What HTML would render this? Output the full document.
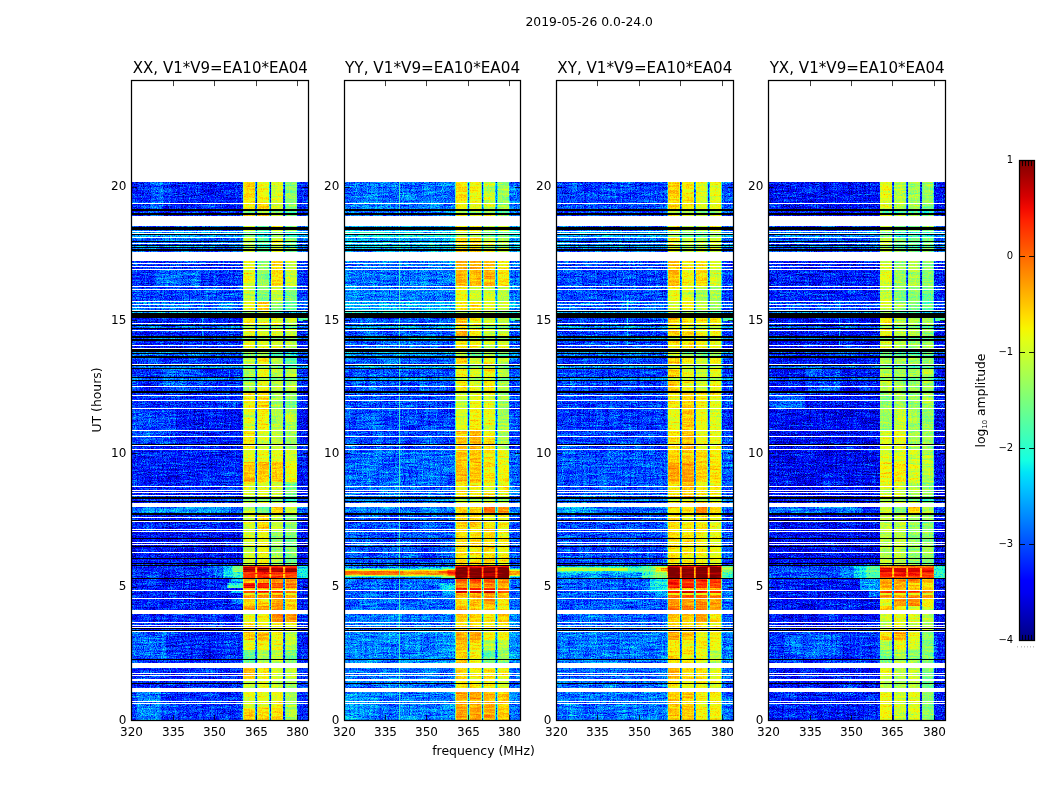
<!DOCTYPE html>
<html lang="en"><head><meta charset="utf-8"><title>2019-05-26 0.0-24.0</title>
<style>html,body{margin:0;padding:0;background:#fff}body{width:1050px;height:800px;overflow:hidden}svg{display:block}text{font-family:"DejaVu Sans","Liberation Sans",sans-serif;fill:#000}</style></head><body>
<svg width="1050" height="800" viewBox="0 0 1050 800">
<defs>
<filter id="jet0" filterUnits="userSpaceOnUse" x="121.25" y="170" width="196.9" height="560" color-interpolation-filters="sRGB">
<feGaussianBlur in="SourceGraphic" stdDeviation="0.5 0.6" result="S"/>
<feTurbulence type="fractalNoise" baseFrequency="0.85 0.9" numOctaves="2" seed="3" result="T"/>
<feTurbulence type="fractalNoise" baseFrequency="0.05 0.55" numOctaves="2" seed="11" result="T2"/>
<feTurbulence type="fractalNoise" baseFrequency="0.45 0.03" numOctaves="1" seed="2" result="T3"/>
<feColorMatrix in="T" type="matrix" values="1 0 0 0 0  1 0 0 0 0  1 0 0 0 0  0 0 0 0 1" result="N1"/>
<feColorMatrix in="T2" type="matrix" values="1 0 0 0 0  1 0 0 0 0  1 0 0 0 0  0 0 0 0 1" result="N2"/>
<feColorMatrix in="T3" type="matrix" values="1 0 0 0 0  1 0 0 0 0  1 0 0 0 0  0 0 0 0 1" result="N3"/>
<feComposite in="N1" in2="N2" operator="arithmetic" k1="0" k2="0.8" k3="0.2" k4="0" result="N12"/>
<feComposite in="N12" in2="N3" operator="arithmetic" k1="0" k2="1" k3="0.3" k4="-0.15" result="Nz0"/>
<feComponentTransfer in="Nz0" result="Nz"><feFuncR type="gamma" amplitude="1" exponent="0.55" offset="0"/><feFuncG type="gamma" amplitude="1" exponent="0.55" offset="0"/><feFuncB type="gamma" amplitude="1" exponent="0.55" offset="0"/></feComponentTransfer>
<feComposite in="S" in2="Nz" operator="arithmetic" k1="-0.85" k2="1.5737" k3="0.85" k4="-0.5737" result="Wv0"/>
<feComposite in="Wv0" in2="N2" operator="arithmetic" k1="0" k2="1" k3="0.16" k4="-0.08" result="Wv"/>
<feComponentTransfer in="Wv"><feFuncR type="table" tableValues="0.000 0.000 0.000 0.000 0.000 0.000 0.000 0.000 0.000 0.000 0.000 0.000 0.000 0.000 0.000 0.000 0.000 0.000 0.000 0.000 0.000 0.000 0.000 0.000 0.000 0.000 0.000 0.000 0.000 0.000 0.000 0.000 0.000 0.000 0.000 0.000 0.032 0.065 0.097 0.129 0.161 0.194 0.226 0.258 0.290 0.323 0.355 0.387 0.419 0.452 0.484 0.516 0.548 0.581 0.613 0.645 0.677 0.710 0.742 0.774 0.806 0.839 0.871 0.903 0.935 0.968 1.000 1.000 1.000 1.000 1.000 1.000 1.000 1.000 1.000 1.000 1.000 1.000 1.000 1.000 1.000 1.000 1.000 1.000 1.000 1.000 1.000 1.000 1.000 1.000 0.955 0.909 0.864 0.818 0.773 0.727 0.682 0.636 0.591 0.545 0.500"/><feFuncG type="table" tableValues="0.000 0.000 0.000 0.000 0.000 0.000 0.000 0.000 0.000 0.000 0.000 0.000 0.000 0.020 0.060 0.100 0.140 0.180 0.220 0.260 0.300 0.340 0.380 0.420 0.460 0.500 0.540 0.580 0.620 0.660 0.700 0.740 0.780 0.820 0.860 0.900 0.940 0.980 1.000 1.000 1.000 1.000 1.000 1.000 1.000 1.000 1.000 1.000 1.000 1.000 1.000 1.000 1.000 1.000 1.000 1.000 1.000 1.000 1.000 1.000 1.000 1.000 1.000 1.000 1.000 0.963 0.926 0.889 0.852 0.815 0.778 0.741 0.704 0.667 0.630 0.593 0.556 0.519 0.481 0.444 0.407 0.370 0.333 0.296 0.259 0.222 0.185 0.148 0.111 0.074 0.037 0.000 0.000 0.000 0.000 0.000 0.000 0.000 0.000 0.000 0.000"/><feFuncB type="table" tableValues="0.500 0.545 0.591 0.636 0.682 0.727 0.773 0.818 0.864 0.909 0.955 1.000 1.000 1.000 1.000 1.000 1.000 1.000 1.000 1.000 1.000 1.000 1.000 1.000 1.000 1.000 1.000 1.000 1.000 1.000 1.000 1.000 1.000 1.000 1.000 0.968 0.935 0.903 0.871 0.839 0.806 0.774 0.742 0.710 0.677 0.645 0.613 0.581 0.548 0.516 0.484 0.452 0.419 0.387 0.355 0.323 0.290 0.258 0.226 0.194 0.161 0.129 0.097 0.065 0.032 0.000 0.000 0.000 0.000 0.000 0.000 0.000 0.000 0.000 0.000 0.000 0.000 0.000 0.000 0.000 0.000 0.000 0.000 0.000 0.000 0.000 0.000 0.000 0.000 0.000 0.000 0.000 0.000 0.000 0.000 0.000 0.000 0.000 0.000 0.000 0.000"/></feComponentTransfer>
</filter>
<clipPath id="cp0"><rect x="131.5" y="182.0" width="177" height="538.5"/></clipPath>
<filter id="jet1" filterUnits="userSpaceOnUse" x="333.53" y="170" width="196.9" height="560" color-interpolation-filters="sRGB">
<feGaussianBlur in="SourceGraphic" stdDeviation="0.5 0.6" result="S"/>
<feTurbulence type="fractalNoise" baseFrequency="0.85 0.9" numOctaves="2" seed="10" result="T"/>
<feTurbulence type="fractalNoise" baseFrequency="0.05 0.55" numOctaves="2" seed="16" result="T2"/>
<feTurbulence type="fractalNoise" baseFrequency="0.45 0.03" numOctaves="1" seed="5" result="T3"/>
<feColorMatrix in="T" type="matrix" values="1 0 0 0 0  1 0 0 0 0  1 0 0 0 0  0 0 0 0 1" result="N1"/>
<feColorMatrix in="T2" type="matrix" values="1 0 0 0 0  1 0 0 0 0  1 0 0 0 0  0 0 0 0 1" result="N2"/>
<feColorMatrix in="T3" type="matrix" values="1 0 0 0 0  1 0 0 0 0  1 0 0 0 0  0 0 0 0 1" result="N3"/>
<feComposite in="N1" in2="N2" operator="arithmetic" k1="0" k2="0.8" k3="0.2" k4="0" result="N12"/>
<feComposite in="N12" in2="N3" operator="arithmetic" k1="0" k2="1" k3="0.3" k4="-0.15" result="Nz0"/>
<feComponentTransfer in="Nz0" result="Nz"><feFuncR type="gamma" amplitude="1" exponent="0.55" offset="0"/><feFuncG type="gamma" amplitude="1" exponent="0.55" offset="0"/><feFuncB type="gamma" amplitude="1" exponent="0.55" offset="0"/></feComponentTransfer>
<feComposite in="S" in2="Nz" operator="arithmetic" k1="-0.85" k2="1.5737" k3="0.85" k4="-0.5737" result="Wv0"/>
<feComposite in="Wv0" in2="N2" operator="arithmetic" k1="0" k2="1" k3="0.16" k4="-0.08" result="Wv"/>
<feComponentTransfer in="Wv"><feFuncR type="table" tableValues="0.000 0.000 0.000 0.000 0.000 0.000 0.000 0.000 0.000 0.000 0.000 0.000 0.000 0.000 0.000 0.000 0.000 0.000 0.000 0.000 0.000 0.000 0.000 0.000 0.000 0.000 0.000 0.000 0.000 0.000 0.000 0.000 0.000 0.000 0.000 0.000 0.032 0.065 0.097 0.129 0.161 0.194 0.226 0.258 0.290 0.323 0.355 0.387 0.419 0.452 0.484 0.516 0.548 0.581 0.613 0.645 0.677 0.710 0.742 0.774 0.806 0.839 0.871 0.903 0.935 0.968 1.000 1.000 1.000 1.000 1.000 1.000 1.000 1.000 1.000 1.000 1.000 1.000 1.000 1.000 1.000 1.000 1.000 1.000 1.000 1.000 1.000 1.000 1.000 1.000 0.955 0.909 0.864 0.818 0.773 0.727 0.682 0.636 0.591 0.545 0.500"/><feFuncG type="table" tableValues="0.000 0.000 0.000 0.000 0.000 0.000 0.000 0.000 0.000 0.000 0.000 0.000 0.000 0.020 0.060 0.100 0.140 0.180 0.220 0.260 0.300 0.340 0.380 0.420 0.460 0.500 0.540 0.580 0.620 0.660 0.700 0.740 0.780 0.820 0.860 0.900 0.940 0.980 1.000 1.000 1.000 1.000 1.000 1.000 1.000 1.000 1.000 1.000 1.000 1.000 1.000 1.000 1.000 1.000 1.000 1.000 1.000 1.000 1.000 1.000 1.000 1.000 1.000 1.000 1.000 0.963 0.926 0.889 0.852 0.815 0.778 0.741 0.704 0.667 0.630 0.593 0.556 0.519 0.481 0.444 0.407 0.370 0.333 0.296 0.259 0.222 0.185 0.148 0.111 0.074 0.037 0.000 0.000 0.000 0.000 0.000 0.000 0.000 0.000 0.000 0.000"/><feFuncB type="table" tableValues="0.500 0.545 0.591 0.636 0.682 0.727 0.773 0.818 0.864 0.909 0.955 1.000 1.000 1.000 1.000 1.000 1.000 1.000 1.000 1.000 1.000 1.000 1.000 1.000 1.000 1.000 1.000 1.000 1.000 1.000 1.000 1.000 1.000 1.000 1.000 0.968 0.935 0.903 0.871 0.839 0.806 0.774 0.742 0.710 0.677 0.645 0.613 0.581 0.548 0.516 0.484 0.452 0.419 0.387 0.355 0.323 0.290 0.258 0.226 0.194 0.161 0.129 0.097 0.065 0.032 0.000 0.000 0.000 0.000 0.000 0.000 0.000 0.000 0.000 0.000 0.000 0.000 0.000 0.000 0.000 0.000 0.000 0.000 0.000 0.000 0.000 0.000 0.000 0.000 0.000 0.000 0.000 0.000 0.000 0.000 0.000 0.000 0.000 0.000 0.000 0.000"/></feComponentTransfer>
</filter>
<clipPath id="cp1"><rect x="344.5" y="182.0" width="176" height="538.5"/></clipPath>
<filter id="jet2" filterUnits="userSpaceOnUse" x="545.8" y="170" width="196.9" height="560" color-interpolation-filters="sRGB">
<feGaussianBlur in="SourceGraphic" stdDeviation="0.5 0.6" result="S"/>
<feTurbulence type="fractalNoise" baseFrequency="0.85 0.9" numOctaves="2" seed="17" result="T"/>
<feTurbulence type="fractalNoise" baseFrequency="0.05 0.55" numOctaves="2" seed="21" result="T2"/>
<feTurbulence type="fractalNoise" baseFrequency="0.45 0.03" numOctaves="1" seed="8" result="T3"/>
<feColorMatrix in="T" type="matrix" values="1 0 0 0 0  1 0 0 0 0  1 0 0 0 0  0 0 0 0 1" result="N1"/>
<feColorMatrix in="T2" type="matrix" values="1 0 0 0 0  1 0 0 0 0  1 0 0 0 0  0 0 0 0 1" result="N2"/>
<feColorMatrix in="T3" type="matrix" values="1 0 0 0 0  1 0 0 0 0  1 0 0 0 0  0 0 0 0 1" result="N3"/>
<feComposite in="N1" in2="N2" operator="arithmetic" k1="0" k2="0.8" k3="0.2" k4="0" result="N12"/>
<feComposite in="N12" in2="N3" operator="arithmetic" k1="0" k2="1" k3="0.3" k4="-0.15" result="Nz0"/>
<feComponentTransfer in="Nz0" result="Nz"><feFuncR type="gamma" amplitude="1" exponent="0.55" offset="0"/><feFuncG type="gamma" amplitude="1" exponent="0.55" offset="0"/><feFuncB type="gamma" amplitude="1" exponent="0.55" offset="0"/></feComponentTransfer>
<feComposite in="S" in2="Nz" operator="arithmetic" k1="-0.85" k2="1.5737" k3="0.85" k4="-0.5737" result="Wv0"/>
<feComposite in="Wv0" in2="N2" operator="arithmetic" k1="0" k2="1" k3="0.16" k4="-0.08" result="Wv"/>
<feComponentTransfer in="Wv"><feFuncR type="table" tableValues="0.000 0.000 0.000 0.000 0.000 0.000 0.000 0.000 0.000 0.000 0.000 0.000 0.000 0.000 0.000 0.000 0.000 0.000 0.000 0.000 0.000 0.000 0.000 0.000 0.000 0.000 0.000 0.000 0.000 0.000 0.000 0.000 0.000 0.000 0.000 0.000 0.032 0.065 0.097 0.129 0.161 0.194 0.226 0.258 0.290 0.323 0.355 0.387 0.419 0.452 0.484 0.516 0.548 0.581 0.613 0.645 0.677 0.710 0.742 0.774 0.806 0.839 0.871 0.903 0.935 0.968 1.000 1.000 1.000 1.000 1.000 1.000 1.000 1.000 1.000 1.000 1.000 1.000 1.000 1.000 1.000 1.000 1.000 1.000 1.000 1.000 1.000 1.000 1.000 1.000 0.955 0.909 0.864 0.818 0.773 0.727 0.682 0.636 0.591 0.545 0.500"/><feFuncG type="table" tableValues="0.000 0.000 0.000 0.000 0.000 0.000 0.000 0.000 0.000 0.000 0.000 0.000 0.000 0.020 0.060 0.100 0.140 0.180 0.220 0.260 0.300 0.340 0.380 0.420 0.460 0.500 0.540 0.580 0.620 0.660 0.700 0.740 0.780 0.820 0.860 0.900 0.940 0.980 1.000 1.000 1.000 1.000 1.000 1.000 1.000 1.000 1.000 1.000 1.000 1.000 1.000 1.000 1.000 1.000 1.000 1.000 1.000 1.000 1.000 1.000 1.000 1.000 1.000 1.000 1.000 0.963 0.926 0.889 0.852 0.815 0.778 0.741 0.704 0.667 0.630 0.593 0.556 0.519 0.481 0.444 0.407 0.370 0.333 0.296 0.259 0.222 0.185 0.148 0.111 0.074 0.037 0.000 0.000 0.000 0.000 0.000 0.000 0.000 0.000 0.000 0.000"/><feFuncB type="table" tableValues="0.500 0.545 0.591 0.636 0.682 0.727 0.773 0.818 0.864 0.909 0.955 1.000 1.000 1.000 1.000 1.000 1.000 1.000 1.000 1.000 1.000 1.000 1.000 1.000 1.000 1.000 1.000 1.000 1.000 1.000 1.000 1.000 1.000 1.000 1.000 0.968 0.935 0.903 0.871 0.839 0.806 0.774 0.742 0.710 0.677 0.645 0.613 0.581 0.548 0.516 0.484 0.452 0.419 0.387 0.355 0.323 0.290 0.258 0.226 0.194 0.161 0.129 0.097 0.065 0.032 0.000 0.000 0.000 0.000 0.000 0.000 0.000 0.000 0.000 0.000 0.000 0.000 0.000 0.000 0.000 0.000 0.000 0.000 0.000 0.000 0.000 0.000 0.000 0.000 0.000 0.000 0.000 0.000 0.000 0.000 0.000 0.000 0.000 0.000 0.000 0.000"/></feComponentTransfer>
</filter>
<clipPath id="cp2"><rect x="556.5" y="182.0" width="177" height="538.5"/></clipPath>
<filter id="jet3" filterUnits="userSpaceOnUse" x="758.1" y="170" width="196.9" height="560" color-interpolation-filters="sRGB">
<feGaussianBlur in="SourceGraphic" stdDeviation="0.5 0.6" result="S"/>
<feTurbulence type="fractalNoise" baseFrequency="0.85 0.9" numOctaves="2" seed="24" result="T"/>
<feTurbulence type="fractalNoise" baseFrequency="0.05 0.55" numOctaves="2" seed="26" result="T2"/>
<feTurbulence type="fractalNoise" baseFrequency="0.45 0.03" numOctaves="1" seed="11" result="T3"/>
<feColorMatrix in="T" type="matrix" values="1 0 0 0 0  1 0 0 0 0  1 0 0 0 0  0 0 0 0 1" result="N1"/>
<feColorMatrix in="T2" type="matrix" values="1 0 0 0 0  1 0 0 0 0  1 0 0 0 0  0 0 0 0 1" result="N2"/>
<feColorMatrix in="T3" type="matrix" values="1 0 0 0 0  1 0 0 0 0  1 0 0 0 0  0 0 0 0 1" result="N3"/>
<feComposite in="N1" in2="N2" operator="arithmetic" k1="0" k2="0.8" k3="0.2" k4="0" result="N12"/>
<feComposite in="N12" in2="N3" operator="arithmetic" k1="0" k2="1" k3="0.3" k4="-0.15" result="Nz0"/>
<feComponentTransfer in="Nz0" result="Nz"><feFuncR type="gamma" amplitude="1" exponent="0.55" offset="0"/><feFuncG type="gamma" amplitude="1" exponent="0.55" offset="0"/><feFuncB type="gamma" amplitude="1" exponent="0.55" offset="0"/></feComponentTransfer>
<feComposite in="S" in2="Nz" operator="arithmetic" k1="-0.85" k2="1.5737" k3="0.85" k4="-0.5737" result="Wv0"/>
<feComposite in="Wv0" in2="N2" operator="arithmetic" k1="0" k2="1" k3="0.16" k4="-0.08" result="Wv"/>
<feComponentTransfer in="Wv"><feFuncR type="table" tableValues="0.000 0.000 0.000 0.000 0.000 0.000 0.000 0.000 0.000 0.000 0.000 0.000 0.000 0.000 0.000 0.000 0.000 0.000 0.000 0.000 0.000 0.000 0.000 0.000 0.000 0.000 0.000 0.000 0.000 0.000 0.000 0.000 0.000 0.000 0.000 0.000 0.032 0.065 0.097 0.129 0.161 0.194 0.226 0.258 0.290 0.323 0.355 0.387 0.419 0.452 0.484 0.516 0.548 0.581 0.613 0.645 0.677 0.710 0.742 0.774 0.806 0.839 0.871 0.903 0.935 0.968 1.000 1.000 1.000 1.000 1.000 1.000 1.000 1.000 1.000 1.000 1.000 1.000 1.000 1.000 1.000 1.000 1.000 1.000 1.000 1.000 1.000 1.000 1.000 1.000 0.955 0.909 0.864 0.818 0.773 0.727 0.682 0.636 0.591 0.545 0.500"/><feFuncG type="table" tableValues="0.000 0.000 0.000 0.000 0.000 0.000 0.000 0.000 0.000 0.000 0.000 0.000 0.000 0.020 0.060 0.100 0.140 0.180 0.220 0.260 0.300 0.340 0.380 0.420 0.460 0.500 0.540 0.580 0.620 0.660 0.700 0.740 0.780 0.820 0.860 0.900 0.940 0.980 1.000 1.000 1.000 1.000 1.000 1.000 1.000 1.000 1.000 1.000 1.000 1.000 1.000 1.000 1.000 1.000 1.000 1.000 1.000 1.000 1.000 1.000 1.000 1.000 1.000 1.000 1.000 0.963 0.926 0.889 0.852 0.815 0.778 0.741 0.704 0.667 0.630 0.593 0.556 0.519 0.481 0.444 0.407 0.370 0.333 0.296 0.259 0.222 0.185 0.148 0.111 0.074 0.037 0.000 0.000 0.000 0.000 0.000 0.000 0.000 0.000 0.000 0.000"/><feFuncB type="table" tableValues="0.500 0.545 0.591 0.636 0.682 0.727 0.773 0.818 0.864 0.909 0.955 1.000 1.000 1.000 1.000 1.000 1.000 1.000 1.000 1.000 1.000 1.000 1.000 1.000 1.000 1.000 1.000 1.000 1.000 1.000 1.000 1.000 1.000 1.000 1.000 0.968 0.935 0.903 0.871 0.839 0.806 0.774 0.742 0.710 0.677 0.645 0.613 0.581 0.548 0.516 0.484 0.452 0.419 0.387 0.355 0.323 0.290 0.258 0.226 0.194 0.161 0.129 0.097 0.065 0.032 0.000 0.000 0.000 0.000 0.000 0.000 0.000 0.000 0.000 0.000 0.000 0.000 0.000 0.000 0.000 0.000 0.000 0.000 0.000 0.000 0.000 0.000 0.000 0.000 0.000 0.000 0.000 0.000 0.000 0.000 0.000 0.000 0.000 0.000 0.000 0.000"/></feComponentTransfer>
</filter>
<clipPath id="cp3"><rect x="768.5" y="182.0" width="177" height="538.5"/></clipPath>
<g id="ov">
<path fill="#fff" d="M-1 203h178.9v1h-178.9zM-1 216h178.9v10h-178.9zM-1 231h178.9v1h-178.9zM-1 233h178.9v1h-178.9zM-1 237h178.9v1h-178.9zM-1 243h178.9v1h-178.9zM-1 252h178.9v9h-178.9zM-1 263h178.9v1h-178.9zM-1 266h178.9v1h-178.9zM-1 269h178.9v1h-178.9zM-1 286h178.9v1h-178.9zM-1 289h178.9v1h-178.9zM-1 301h178.9v1h-178.9zM-1 304h178.9v1h-178.9zM-1 307h178.9v1h-178.9zM-1 310h178.9v1h-178.9zM-1 323h178.9v1h-178.9zM-1 330h178.9v1h-178.9zM-1 345h178.9v1h-178.9zM-1 348h178.9v1h-178.9zM-1 364h178.9v1h-178.9zM-1 386h178.9v1h-178.9zM-1 395h178.9v1h-178.9zM-1 400h178.9v1h-178.9zM-1 408h178.9v1h-178.9zM-1 430h178.9v1h-178.9zM-1 436h178.9v1h-178.9zM-1 445h178.9v1h-178.9zM-1 449h178.9v1h-178.9zM-1 486h178.9v1h-178.9zM-1 490h178.9v1h-178.9zM-1 492h178.9v1h-178.9zM-1 495h178.9v1h-178.9zM-1 503h178.9v4h-178.9zM-1 517h178.9v1h-178.9zM-1 521h178.9v1h-178.9zM-1 529h178.9v1h-178.9zM-1 531h178.9v1h-178.9zM-1 542h178.9v1h-178.9zM-1 544h178.9v1h-178.9zM-1 552h178.9v1h-178.9zM-1 590h178.9v1h-178.9zM-1 598h178.9v1h-178.9zM-1 610h178.9v4h-178.9zM-1 622h178.9v1h-178.9zM-1 625h178.9v1h-178.9zM-1 627h178.9v1h-178.9zM-1 631h178.9v1h-178.9zM-1 663h178.9v5h-178.9zM-1 673h178.9v1h-178.9zM-1 675h178.9v1h-178.9zM-1 679h178.9v2h-178.9zM-1 688h178.9v4h-178.9zM-1 701h178.9v1h-178.9zM-1 703h178.9v1h-178.9z"/>
<path fill="#000" d="M-1 209h178.9v2h-178.9zM-1 213h178.9v2h-178.9zM-1 227h178.9v3h-178.9zM-1 234h178.9v1h-178.9zM-1 241h178.9v1h-178.9zM-1 245h178.9v1h-178.9zM-1 247h178.9v1h-178.9zM-1 249h178.9v2h-178.9zM-1 311h178.9v1h-178.9zM-1 313h178.9v5h-178.9zM-1 325h178.9v1h-178.9zM-1 328h178.9v1h-178.9zM-1 336h178.9v2h-178.9zM-1 339h178.9v2h-178.9zM-1 349h178.9v3h-178.9zM-1 353h178.9v1h-178.9zM-1 356h178.9v2h-178.9zM-1 365h178.9v1h-178.9zM-1 368h178.9v1h-178.9zM-1 377h178.9v1h-178.9zM-1 380h178.9v1h-178.9zM-1 391h178.9v2h-178.9zM-1 444h178.9v1h-178.9zM-1 497h178.9v2h-178.9zM-1 501h178.9v1h-178.9zM-1 513h178.9v2h-178.9zM-1 520h178.9v1h-178.9zM-1 538h178.9v1h-178.9zM-1 546h178.9v1h-178.9zM-1 558h178.9v1h-178.9zM-1 563h178.9v1h-178.9zM-1 565h178.9v1h-178.9zM-1 578h178.9v1h-178.9zM-1 628h178.9v1h-178.9zM-1 630h178.9v1h-178.9zM-1 659h178.9v1h-178.9zM-1 683h178.9v1h-178.9z"/>
</g>
<linearGradient id="cbg" x1="0" y1="0" x2="0" y2="1"><stop offset="0%" stop-color="rgb(128,0,0)"/><stop offset="2.5%" stop-color="rgb(156,0,0)"/><stop offset="5%" stop-color="rgb(185,0,0)"/><stop offset="7.5%" stop-color="rgb(214,0,0)"/><stop offset="10%" stop-color="rgb(243,9,0)"/><stop offset="12.5%" stop-color="rgb(255,33,0)"/><stop offset="15%" stop-color="rgb(255,57,0)"/><stop offset="17.5%" stop-color="rgb(255,80,0)"/><stop offset="20%" stop-color="rgb(255,104,0)"/><stop offset="22.5%" stop-color="rgb(255,128,0)"/><stop offset="25%" stop-color="rgb(255,151,0)"/><stop offset="27.5%" stop-color="rgb(255,175,0)"/><stop offset="30%" stop-color="rgb(255,198,0)"/><stop offset="32.5%" stop-color="rgb(255,222,0)"/><stop offset="35%" stop-color="rgb(247,246,0)"/><stop offset="37.5%" stop-color="rgb(226,255,21)"/><stop offset="40%" stop-color="rgb(206,255,41)"/><stop offset="42.5%" stop-color="rgb(185,255,62)"/><stop offset="45%" stop-color="rgb(165,255,82)"/><stop offset="47.5%" stop-color="rgb(144,255,103)"/><stop offset="50%" stop-color="rgb(123,255,123)"/><stop offset="52.5%" stop-color="rgb(103,255,144)"/><stop offset="55%" stop-color="rgb(82,255,165)"/><stop offset="57.5%" stop-color="rgb(62,255,185)"/><stop offset="60%" stop-color="rgb(41,255,206)"/><stop offset="62.5%" stop-color="rgb(21,255,226)"/><stop offset="65%" stop-color="rgb(0,229,247)"/><stop offset="67.5%" stop-color="rgb(0,204,255)"/><stop offset="70%" stop-color="rgb(0,179,255)"/><stop offset="72.5%" stop-color="rgb(0,153,255)"/><stop offset="75%" stop-color="rgb(0,128,255)"/><stop offset="77.5%" stop-color="rgb(0,102,255)"/><stop offset="80%" stop-color="rgb(0,76,255)"/><stop offset="82.5%" stop-color="rgb(0,51,255)"/><stop offset="85%" stop-color="rgb(0,26,255)"/><stop offset="87.5%" stop-color="rgb(0,0,255)"/><stop offset="90%" stop-color="rgb(0,0,243)"/><stop offset="92.5%" stop-color="rgb(0,0,214)"/><stop offset="95%" stop-color="rgb(0,0,185)"/><stop offset="97.5%" stop-color="rgb(0,0,156)"/><stop offset="100%" stop-color="rgb(0,0,128)"/></linearGradient>
</defs>
<g clip-path="url(#cp0)"><g filter="url(#jet0)">
<rect x="119.25" y="168" width="200.9" height="564" fill="#262626"/>
<rect x="119.25" y="168" width="200.9" height="36" fill="#262626"/>
<rect x="119.25" y="204" width="200.9" height="17" fill="#262626"/>
<rect x="119.25" y="221" width="200.9" height="35" fill="#383838"/>
<rect x="119.25" y="256" width="200.9" height="31" fill="#2b2b2b"/>
<rect x="119.25" y="287" width="200.9" height="14" fill="#303030"/>
<rect x="119.25" y="301" width="200.9" height="14" fill="#3d3d3d"/>
<rect x="119.25" y="315" width="200.9" height="21" fill="#262626"/>
<rect x="119.25" y="336" width="200.9" height="14" fill="#262626"/>
<rect x="119.25" y="350" width="200.9" height="14" fill="#2b2b2b"/>
<rect x="119.25" y="364" width="200.9" height="28" fill="#292929"/>
<rect x="119.25" y="392" width="200.9" height="16" fill="#292929"/>
<rect x="119.25" y="408" width="200.9" height="22" fill="#212121"/>
<rect x="119.25" y="430" width="200.9" height="19" fill="#242424"/>
<rect x="119.25" y="449" width="200.9" height="13" fill="#242424"/>
<rect x="119.25" y="462" width="200.9" height="20" fill="#242424"/>
<rect x="119.25" y="482" width="200.9" height="23" fill="#242424"/>
<rect x="119.25" y="505" width="200.9" height="9" fill="#383838"/>
<rect x="119.25" y="514" width="200.9" height="17" fill="#262626"/>
<rect x="119.25" y="531" width="200.9" height="35" fill="#1f1f1f"/>
<rect x="119.25" y="566" width="200.9" height="6" fill="#292929"/>
<rect x="119.25" y="572" width="200.9" height="6" fill="#292929"/>
<rect x="119.25" y="578" width="200.9" height="5" fill="#242424"/>
<rect x="119.25" y="583" width="200.9" height="5" fill="#242424"/>
<rect x="119.25" y="588" width="200.9" height="2" fill="#242424"/>
<rect x="119.25" y="590" width="200.9" height="3" fill="#242424"/>
<rect x="119.25" y="593" width="200.9" height="2" fill="#242424"/>
<rect x="119.25" y="595" width="200.9" height="3" fill="#242424"/>
<rect x="119.25" y="598" width="200.9" height="8" fill="#242424"/>
<rect x="119.25" y="606" width="200.9" height="6" fill="#242424"/>
<rect x="119.25" y="612" width="200.9" height="10" fill="#262626"/>
<rect x="119.25" y="622" width="200.9" height="10" fill="#262626"/>
<rect x="119.25" y="632" width="200.9" height="8" fill="#292929"/>
<rect x="119.25" y="640" width="200.9" height="10" fill="#292929"/>
<rect x="119.25" y="650" width="200.9" height="15" fill="#292929"/>
<rect x="119.25" y="665" width="200.9" height="15" fill="#292929"/>
<rect x="119.25" y="680" width="200.9" height="10" fill="#292929"/>
<rect x="119.25" y="690" width="200.9" height="18" fill="#2b2b2b"/>
<rect x="119.25" y="708" width="200.9" height="24" fill="#2b2b2b"/>
<rect x="151.25" y="182" width="12" height="34" fill="#383838"/>
<rect x="156.25" y="270" width="45" height="17" fill="#363636"/>
<rect x="161.25" y="365" width="40" height="26" fill="#363636"/>
<rect x="131.25" y="409" width="45" height="36" fill="#303030"/>
<rect x="141.25" y="507" width="90" height="6" fill="#454545"/>
<rect x="131.25" y="632" width="35" height="28" fill="#383838"/>
<rect x="136.25" y="692" width="25" height="28" fill="#404040"/>
<rect x="213.25" y="566" width="10" height="12" fill="#383838"/>
<rect x="223.25" y="566" width="9" height="12" fill="#525252"/>
<rect x="232.25" y="566" width="11" height="6" fill="#808080"/>
<rect x="232.25" y="572" width="11" height="6" fill="#666666"/>
<rect x="296.9" y="566" width="11.35" height="12" fill="#5c5c5c"/>
<rect x="227.25" y="583" width="16" height="5" fill="#6b6b6b"/>
<rect x="231.25" y="591" width="12" height="2" fill="#525252"/>
<rect x="231.25" y="599" width="12" height="5" fill="#424242"/>
<rect x="231.25" y="579" width="12" height="3" fill="#4c4c4c"/>
<rect x="202.25" y="300" width="1" height="45" fill="#5c5c5c"/>
<rect x="243.2" y="168" width="53.7" height="36" fill="#242424"/>
<rect x="243.2" y="168" width="12.1" height="36" fill="#aaaaaa"/>
<rect x="257.2" y="168" width="12.2" height="36" fill="#a6a6a6"/>
<rect x="271.2" y="168" width="11.9" height="36" fill="#9e9e9e"/>
<rect x="285.2" y="168" width="11.7" height="36" fill="#878787"/>
<rect x="243.2" y="204" width="53.7" height="17" fill="#242424"/>
<rect x="243.2" y="204" width="12.1" height="17" fill="#a6a6a6"/>
<rect x="257.2" y="204" width="12.2" height="17" fill="#ababab"/>
<rect x="271.2" y="204" width="11.9" height="17" fill="#999999"/>
<rect x="285.2" y="204" width="11.7" height="17" fill="#858585"/>
<rect x="243.2" y="221" width="53.7" height="35" fill="#363636"/>
<rect x="243.2" y="221" width="12.1" height="35" fill="#949494"/>
<rect x="257.2" y="221" width="12.2" height="35" fill="#7a7a7a"/>
<rect x="271.2" y="221" width="11.9" height="35" fill="#9e9e9e"/>
<rect x="285.2" y="221" width="11.7" height="35" fill="#808080"/>
<rect x="243.2" y="256" width="53.7" height="31" fill="#292929"/>
<rect x="243.2" y="256" width="12.1" height="31" fill="#a1a1a1"/>
<rect x="257.2" y="256" width="12.2" height="31" fill="#858585"/>
<rect x="271.2" y="256" width="11.9" height="31" fill="#ababab"/>
<rect x="285.2" y="256" width="11.7" height="31" fill="#999999"/>
<rect x="243.2" y="287" width="53.7" height="14" fill="#2e2e2e"/>
<rect x="243.2" y="287" width="12.1" height="14" fill="#949494"/>
<rect x="257.2" y="287" width="12.2" height="14" fill="#808080"/>
<rect x="271.2" y="287" width="11.9" height="14" fill="#949494"/>
<rect x="285.2" y="287" width="11.7" height="14" fill="#808080"/>
<rect x="243.2" y="301" width="53.7" height="14" fill="#3b3b3b"/>
<rect x="243.2" y="301" width="12.1" height="14" fill="#a3a3a3"/>
<rect x="257.2" y="301" width="12.2" height="14" fill="#b2b2b2"/>
<rect x="271.2" y="301" width="11.9" height="14" fill="#858585"/>
<rect x="285.2" y="301" width="11.7" height="14" fill="#757575"/>
<rect x="243.2" y="315" width="53.7" height="21" fill="#242424"/>
<rect x="243.2" y="315" width="12.1" height="21" fill="#a3a3a3"/>
<rect x="257.2" y="315" width="12.2" height="21" fill="#9e9e9e"/>
<rect x="271.2" y="315" width="11.9" height="21" fill="#9e9e9e"/>
<rect x="285.2" y="315" width="11.7" height="21" fill="#949494"/>
<rect x="243.2" y="336" width="53.7" height="14" fill="#242424"/>
<rect x="243.2" y="336" width="12.1" height="14" fill="#9e9e9e"/>
<rect x="257.2" y="336" width="12.2" height="14" fill="#9e9e9e"/>
<rect x="271.2" y="336" width="11.9" height="14" fill="#999999"/>
<rect x="285.2" y="336" width="11.7" height="14" fill="#919191"/>
<rect x="243.2" y="350" width="53.7" height="14" fill="#292929"/>
<rect x="243.2" y="350" width="12.1" height="14" fill="#949494"/>
<rect x="257.2" y="350" width="12.2" height="14" fill="#a6a6a6"/>
<rect x="271.2" y="350" width="11.9" height="14" fill="#8f8f8f"/>
<rect x="285.2" y="350" width="11.7" height="14" fill="#7a7a7a"/>
<rect x="243.2" y="364" width="53.7" height="28" fill="#262626"/>
<rect x="243.2" y="364" width="12.1" height="28" fill="#8f8f8f"/>
<rect x="257.2" y="364" width="12.2" height="28" fill="#a1a1a1"/>
<rect x="271.2" y="364" width="11.9" height="28" fill="#919191"/>
<rect x="285.2" y="364" width="11.7" height="28" fill="#949494"/>
<rect x="243.2" y="392" width="53.7" height="16" fill="#262626"/>
<rect x="243.2" y="392" width="12.1" height="16" fill="#a8a8a8"/>
<rect x="257.2" y="392" width="12.2" height="16" fill="#ababab"/>
<rect x="271.2" y="392" width="11.9" height="16" fill="#8c8c8c"/>
<rect x="285.2" y="392" width="11.7" height="16" fill="#808080"/>
<rect x="243.2" y="408" width="53.7" height="22" fill="#1f1f1f"/>
<rect x="243.2" y="408" width="12.1" height="22" fill="#999999"/>
<rect x="257.2" y="408" width="12.2" height="22" fill="#a6a6a6"/>
<rect x="271.2" y="408" width="11.9" height="22" fill="#919191"/>
<rect x="285.2" y="408" width="11.7" height="22" fill="#8c8c8c"/>
<rect x="243.2" y="430" width="53.7" height="19" fill="#212121"/>
<rect x="243.2" y="430" width="12.1" height="19" fill="#ababab"/>
<rect x="257.2" y="430" width="12.2" height="19" fill="#999999"/>
<rect x="271.2" y="430" width="11.9" height="19" fill="#949494"/>
<rect x="285.2" y="430" width="11.7" height="19" fill="#8c8c8c"/>
<rect x="243.2" y="449" width="53.7" height="13" fill="#212121"/>
<rect x="243.2" y="449" width="12.1" height="13" fill="#9e9e9e"/>
<rect x="257.2" y="449" width="12.2" height="13" fill="#a1a1a1"/>
<rect x="271.2" y="449" width="11.9" height="13" fill="#9e9e9e"/>
<rect x="285.2" y="449" width="11.7" height="13" fill="#999999"/>
<rect x="243.2" y="462" width="53.7" height="20" fill="#212121"/>
<rect x="243.2" y="462" width="12.1" height="20" fill="#b5b5b5"/>
<rect x="257.2" y="462" width="12.2" height="20" fill="#b2b2b2"/>
<rect x="271.2" y="462" width="11.9" height="20" fill="#b0b0b0"/>
<rect x="285.2" y="462" width="11.7" height="20" fill="#a3a3a3"/>
<rect x="243.2" y="482" width="53.7" height="23" fill="#212121"/>
<rect x="243.2" y="482" width="12.1" height="23" fill="#9e9e9e"/>
<rect x="257.2" y="482" width="12.2" height="23" fill="#9e9e9e"/>
<rect x="271.2" y="482" width="11.9" height="23" fill="#999999"/>
<rect x="285.2" y="482" width="11.7" height="23" fill="#808080"/>
<rect x="243.2" y="505" width="53.7" height="9" fill="#363636"/>
<rect x="243.2" y="505" width="12.1" height="9" fill="#949494"/>
<rect x="257.2" y="505" width="12.2" height="9" fill="#808080"/>
<rect x="271.2" y="505" width="11.9" height="9" fill="#adadad"/>
<rect x="285.2" y="505" width="11.7" height="9" fill="#949494"/>
<rect x="243.2" y="514" width="53.7" height="17" fill="#242424"/>
<rect x="243.2" y="514" width="12.1" height="17" fill="#999999"/>
<rect x="257.2" y="514" width="12.2" height="17" fill="#adadad"/>
<rect x="271.2" y="514" width="11.9" height="17" fill="#949494"/>
<rect x="285.2" y="514" width="11.7" height="17" fill="#858585"/>
<rect x="243.2" y="531" width="53.7" height="35" fill="#1c1c1c"/>
<rect x="243.2" y="531" width="12.1" height="35" fill="#999999"/>
<rect x="257.2" y="531" width="12.2" height="35" fill="#a3a3a3"/>
<rect x="271.2" y="531" width="11.9" height="35" fill="#8c8c8c"/>
<rect x="285.2" y="531" width="11.7" height="35" fill="#808080"/>
<rect x="243.2" y="566" width="53.7" height="6" fill="#b2b2b2"/>
<rect x="243.2" y="566" width="12.1" height="6" fill="#f5f5f5"/>
<rect x="257.2" y="566" width="12.2" height="6" fill="#f5f5f5"/>
<rect x="271.2" y="566" width="11.9" height="6" fill="#f2f2f2"/>
<rect x="285.2" y="566" width="11.7" height="6" fill="#f0f0f0"/>
<rect x="243.2" y="572" width="53.7" height="6" fill="#b2b2b2"/>
<rect x="243.2" y="572" width="12.1" height="6" fill="#dedede"/>
<rect x="257.2" y="572" width="12.2" height="6" fill="#dedede"/>
<rect x="271.2" y="572" width="11.9" height="6" fill="#dbdbdb"/>
<rect x="285.2" y="572" width="11.7" height="6" fill="#dbdbdb"/>
<rect x="243.2" y="578" width="53.7" height="5" fill="#383838"/>
<rect x="243.2" y="578" width="12.1" height="5" fill="#b8b8b8"/>
<rect x="257.2" y="578" width="12.2" height="5" fill="#bdbdbd"/>
<rect x="271.2" y="578" width="11.9" height="5" fill="#c2c2c2"/>
<rect x="285.2" y="578" width="11.7" height="5" fill="#bdbdbd"/>
<rect x="243.2" y="583" width="53.7" height="5" fill="#383838"/>
<rect x="243.2" y="583" width="12.1" height="5" fill="#e0e0e0"/>
<rect x="257.2" y="583" width="12.2" height="5" fill="#e0e0e0"/>
<rect x="271.2" y="583" width="11.9" height="5" fill="#d1d1d1"/>
<rect x="285.2" y="583" width="11.7" height="5" fill="#c7c7c7"/>
<rect x="243.2" y="588" width="53.7" height="2" fill="#383838"/>
<rect x="243.2" y="588" width="12.1" height="2" fill="#b8b8b8"/>
<rect x="257.2" y="588" width="12.2" height="2" fill="#b8b8b8"/>
<rect x="271.2" y="588" width="11.9" height="2" fill="#b2b2b2"/>
<rect x="285.2" y="588" width="11.7" height="2" fill="#adadad"/>
<rect x="243.2" y="590" width="53.7" height="3" fill="#383838"/>
<rect x="243.2" y="590" width="12.1" height="3" fill="#d9d9d9"/>
<rect x="257.2" y="590" width="12.2" height="3" fill="#dbdbdb"/>
<rect x="271.2" y="590" width="11.9" height="3" fill="#d6d6d6"/>
<rect x="285.2" y="590" width="11.7" height="3" fill="#c7c7c7"/>
<rect x="243.2" y="593" width="53.7" height="2" fill="#383838"/>
<rect x="243.2" y="593" width="12.1" height="2" fill="#9e9e9e"/>
<rect x="257.2" y="593" width="12.2" height="2" fill="#a3a3a3"/>
<rect x="271.2" y="593" width="11.9" height="2" fill="#a8a8a8"/>
<rect x="285.2" y="593" width="11.7" height="2" fill="#9e9e9e"/>
<rect x="243.2" y="595" width="53.7" height="3" fill="#383838"/>
<rect x="243.2" y="595" width="12.1" height="3" fill="#b8b8b8"/>
<rect x="257.2" y="595" width="12.2" height="3" fill="#c2c2c2"/>
<rect x="271.2" y="595" width="11.9" height="3" fill="#c7c7c7"/>
<rect x="285.2" y="595" width="11.7" height="3" fill="#b8b8b8"/>
<rect x="243.2" y="598" width="53.7" height="8" fill="#383838"/>
<rect x="243.2" y="598" width="12.1" height="8" fill="#a6a6a6"/>
<rect x="257.2" y="598" width="12.2" height="8" fill="#b0b0b0"/>
<rect x="271.2" y="598" width="11.9" height="8" fill="#bdbdbd"/>
<rect x="285.2" y="598" width="11.7" height="8" fill="#adadad"/>
<rect x="243.2" y="606" width="53.7" height="6" fill="#383838"/>
<rect x="243.2" y="606" width="12.1" height="6" fill="#c2c2c2"/>
<rect x="257.2" y="606" width="12.2" height="6" fill="#bdbdbd"/>
<rect x="271.2" y="606" width="11.9" height="6" fill="#c2c2c2"/>
<rect x="285.2" y="606" width="11.7" height="6" fill="#b2b2b2"/>
<rect x="243.2" y="612" width="53.7" height="10" fill="#242424"/>
<rect x="243.2" y="612" width="12.1" height="10" fill="#a1a1a1"/>
<rect x="257.2" y="612" width="12.2" height="10" fill="#a3a3a3"/>
<rect x="271.2" y="612" width="11.9" height="10" fill="#c2c2c2"/>
<rect x="285.2" y="612" width="11.7" height="10" fill="#bfbfbf"/>
<rect x="243.2" y="622" width="53.7" height="10" fill="#242424"/>
<rect x="243.2" y="622" width="12.1" height="10" fill="#a3a3a3"/>
<rect x="257.2" y="622" width="12.2" height="10" fill="#a3a3a3"/>
<rect x="271.2" y="622" width="11.9" height="10" fill="#a8a8a8"/>
<rect x="285.2" y="622" width="11.7" height="10" fill="#a3a3a3"/>
<rect x="243.2" y="632" width="53.7" height="8" fill="#262626"/>
<rect x="243.2" y="632" width="12.1" height="8" fill="#b2b2b2"/>
<rect x="257.2" y="632" width="12.2" height="8" fill="#b8b8b8"/>
<rect x="271.2" y="632" width="11.9" height="8" fill="#a3a3a3"/>
<rect x="285.2" y="632" width="11.7" height="8" fill="#8f8f8f"/>
<rect x="243.2" y="640" width="53.7" height="10" fill="#262626"/>
<rect x="243.2" y="640" width="12.1" height="10" fill="#9e9e9e"/>
<rect x="257.2" y="640" width="12.2" height="10" fill="#a8a8a8"/>
<rect x="271.2" y="640" width="11.9" height="10" fill="#a1a1a1"/>
<rect x="285.2" y="640" width="11.7" height="10" fill="#8f8f8f"/>
<rect x="243.2" y="650" width="53.7" height="15" fill="#262626"/>
<rect x="243.2" y="650" width="12.1" height="15" fill="#757575"/>
<rect x="257.2" y="650" width="12.2" height="15" fill="#8f8f8f"/>
<rect x="271.2" y="650" width="11.9" height="15" fill="#949494"/>
<rect x="285.2" y="650" width="11.7" height="15" fill="#808080"/>
<rect x="243.2" y="665" width="53.7" height="15" fill="#262626"/>
<rect x="243.2" y="665" width="12.1" height="15" fill="#b8b8b8"/>
<rect x="257.2" y="665" width="12.2" height="15" fill="#a6a6a6"/>
<rect x="271.2" y="665" width="11.9" height="15" fill="#999999"/>
<rect x="285.2" y="665" width="11.7" height="15" fill="#949494"/>
<rect x="243.2" y="680" width="53.7" height="10" fill="#262626"/>
<rect x="243.2" y="680" width="12.1" height="10" fill="#999999"/>
<rect x="257.2" y="680" width="12.2" height="10" fill="#9e9e9e"/>
<rect x="271.2" y="680" width="11.9" height="10" fill="#949494"/>
<rect x="285.2" y="680" width="11.7" height="10" fill="#8c8c8c"/>
<rect x="243.2" y="690" width="53.7" height="18" fill="#292929"/>
<rect x="243.2" y="690" width="12.1" height="18" fill="#999999"/>
<rect x="257.2" y="690" width="12.2" height="18" fill="#a3a3a3"/>
<rect x="271.2" y="690" width="11.9" height="18" fill="#a3a3a3"/>
<rect x="285.2" y="690" width="11.7" height="18" fill="#8c8c8c"/>
<rect x="243.2" y="708" width="53.7" height="24" fill="#292929"/>
<rect x="243.2" y="708" width="12.1" height="24" fill="#adadad"/>
<rect x="257.2" y="708" width="12.2" height="24" fill="#adadad"/>
<rect x="271.2" y="708" width="11.9" height="24" fill="#ababab"/>
<rect x="285.2" y="708" width="11.7" height="24" fill="#8c8c8c"/>
<rect x="119.25" y="211" width="200.9" height="2" fill="#262626"/>
<rect x="243.2" y="211" width="53.7" height="2" fill="#262626"/>
<rect x="243.2" y="211" width="12.1" height="2" fill="#8c8c8c"/>
<rect x="257.2" y="211" width="12.2" height="2" fill="#919191"/>
<rect x="271.2" y="211" width="11.9" height="2" fill="#808080"/>
<rect x="285.2" y="211" width="11.7" height="2" fill="#6b6b6b"/>
<rect x="119.25" y="312" width="200.9" height="1" fill="#545454"/>
<rect x="243.2" y="312" width="53.7" height="1" fill="#3d3d3d"/>
<rect x="243.2" y="312" width="12.1" height="1" fill="#8a8a8a"/>
<rect x="257.2" y="312" width="12.2" height="1" fill="#999999"/>
<rect x="271.2" y="312" width="11.9" height="1" fill="#6b6b6b"/>
<rect x="285.2" y="312" width="11.7" height="1" fill="#5c5c5c"/>
<rect x="119.25" y="326" width="200.9" height="2" fill="#3d3d3d"/>
<rect x="243.2" y="326" width="53.7" height="2" fill="#262626"/>
<rect x="243.2" y="326" width="12.1" height="2" fill="#8a8a8a"/>
<rect x="257.2" y="326" width="12.2" height="2" fill="#858585"/>
<rect x="271.2" y="326" width="11.9" height="2" fill="#858585"/>
<rect x="285.2" y="326" width="11.7" height="2" fill="#7a7a7a"/>
<rect x="119.25" y="338" width="200.9" height="1" fill="#3d3d3d"/>
<rect x="243.2" y="338" width="53.7" height="1" fill="#262626"/>
<rect x="243.2" y="338" width="12.1" height="1" fill="#858585"/>
<rect x="257.2" y="338" width="12.2" height="1" fill="#858585"/>
<rect x="271.2" y="338" width="11.9" height="1" fill="#808080"/>
<rect x="285.2" y="338" width="11.7" height="1" fill="#787878"/>
<rect x="119.25" y="352" width="200.9" height="1" fill="#424242"/>
<rect x="243.2" y="352" width="53.7" height="1" fill="#2b2b2b"/>
<rect x="243.2" y="352" width="12.1" height="1" fill="#7a7a7a"/>
<rect x="257.2" y="352" width="12.2" height="1" fill="#8c8c8c"/>
<rect x="271.2" y="352" width="11.9" height="1" fill="#757575"/>
<rect x="285.2" y="352" width="11.7" height="1" fill="#616161"/>
<rect x="119.25" y="354" width="200.9" height="2" fill="#3b3b3b"/>
<rect x="243.2" y="354" width="53.7" height="2" fill="#2b2b2b"/>
<rect x="243.2" y="354" width="12.1" height="2" fill="#7a7a7a"/>
<rect x="257.2" y="354" width="12.2" height="2" fill="#8c8c8c"/>
<rect x="271.2" y="354" width="11.9" height="2" fill="#757575"/>
<rect x="285.2" y="354" width="11.7" height="2" fill="#616161"/>
<rect x="119.25" y="366" width="200.9" height="2" fill="#404040"/>
<rect x="243.2" y="366" width="53.7" height="2" fill="#292929"/>
<rect x="243.2" y="366" width="12.1" height="2" fill="#757575"/>
<rect x="257.2" y="366" width="12.2" height="2" fill="#878787"/>
<rect x="271.2" y="366" width="11.9" height="2" fill="#787878"/>
<rect x="285.2" y="366" width="11.7" height="2" fill="#7a7a7a"/>
<rect x="119.25" y="378" width="200.9" height="2" fill="#404040"/>
<rect x="243.2" y="378" width="53.7" height="2" fill="#292929"/>
<rect x="243.2" y="378" width="12.1" height="2" fill="#757575"/>
<rect x="257.2" y="378" width="12.2" height="2" fill="#878787"/>
<rect x="271.2" y="378" width="11.9" height="2" fill="#787878"/>
<rect x="285.2" y="378" width="11.7" height="2" fill="#7a7a7a"/>
<rect x="119.25" y="235" width="200.9" height="2" fill="#4a4a4a"/>
<rect x="243.2" y="235" width="53.7" height="2" fill="#383838"/>
<rect x="243.2" y="235" width="12.1" height="2" fill="#7a7a7a"/>
<rect x="257.2" y="235" width="12.2" height="2" fill="#616161"/>
<rect x="271.2" y="235" width="11.9" height="2" fill="#858585"/>
<rect x="285.2" y="235" width="11.7" height="2" fill="#666666"/>
<rect x="119.25" y="232" width="200.9" height="1" fill="#4a4a4a"/>
<rect x="243.2" y="232" width="53.7" height="1" fill="#383838"/>
<rect x="243.2" y="232" width="12.1" height="1" fill="#7a7a7a"/>
<rect x="257.2" y="232" width="12.2" height="1" fill="#616161"/>
<rect x="271.2" y="232" width="11.9" height="1" fill="#858585"/>
<rect x="285.2" y="232" width="11.7" height="1" fill="#666666"/>
<rect x="119.25" y="246" width="200.9" height="1" fill="#4a4a4a"/>
<rect x="243.2" y="246" width="53.7" height="1" fill="#383838"/>
<rect x="243.2" y="246" width="12.1" height="1" fill="#7a7a7a"/>
<rect x="257.2" y="246" width="12.2" height="1" fill="#616161"/>
<rect x="271.2" y="246" width="11.9" height="1" fill="#858585"/>
<rect x="285.2" y="246" width="11.7" height="1" fill="#666666"/>
<rect x="119.25" y="499" width="200.9" height="2" fill="#2e2e2e"/>
<rect x="243.2" y="499" width="53.7" height="2" fill="#242424"/>
<rect x="243.2" y="499" width="12.1" height="2" fill="#858585"/>
<rect x="257.2" y="499" width="12.2" height="2" fill="#858585"/>
<rect x="271.2" y="499" width="11.9" height="2" fill="#808080"/>
<rect x="285.2" y="499" width="11.7" height="2" fill="#666666"/>
<rect x="298.25" y="318" width="10" height="3" fill="#757575"/>
<rect x="243.2" y="566" width="53.7" height="1.2" fill="#d6d6d6"/>
<rect x="243.2" y="573" width="53.7" height="1" fill="#dbdbdb"/>
</g></g>
<g clip-path="url(#cp0)"><use href="#ov" x="131.25"/></g>
<g clip-path="url(#cp1)"><g filter="url(#jet1)">
<rect x="331.53" y="168" width="200.9" height="564" fill="#3b3b3b"/>
<rect x="331.53" y="168" width="200.9" height="36" fill="#3b3b3b"/>
<rect x="331.53" y="204" width="200.9" height="17" fill="#3b3b3b"/>
<rect x="331.53" y="221" width="200.9" height="35" fill="#4a4a4a"/>
<rect x="331.53" y="256" width="200.9" height="31" fill="#3b3b3b"/>
<rect x="331.53" y="287" width="200.9" height="14" fill="#3d3d3d"/>
<rect x="331.53" y="301" width="200.9" height="14" fill="#4a4a4a"/>
<rect x="331.53" y="315" width="200.9" height="21" fill="#363636"/>
<rect x="331.53" y="336" width="200.9" height="14" fill="#363636"/>
<rect x="331.53" y="350" width="200.9" height="14" fill="#363636"/>
<rect x="331.53" y="364" width="200.9" height="28" fill="#333333"/>
<rect x="331.53" y="392" width="200.9" height="16" fill="#303030"/>
<rect x="331.53" y="408" width="200.9" height="22" fill="#303030"/>
<rect x="331.53" y="430" width="200.9" height="19" fill="#303030"/>
<rect x="331.53" y="449" width="200.9" height="13" fill="#383838"/>
<rect x="331.53" y="462" width="200.9" height="20" fill="#383838"/>
<rect x="331.53" y="482" width="200.9" height="23" fill="#383838"/>
<rect x="331.53" y="505" width="200.9" height="9" fill="#3d3d3d"/>
<rect x="331.53" y="514" width="200.9" height="17" fill="#333333"/>
<rect x="331.53" y="531" width="200.9" height="35" fill="#333333"/>
<rect x="331.53" y="566" width="200.9" height="6" fill="#383838"/>
<rect x="331.53" y="572" width="200.9" height="6" fill="#383838"/>
<rect x="331.53" y="578" width="200.9" height="5" fill="#383838"/>
<rect x="331.53" y="583" width="200.9" height="5" fill="#383838"/>
<rect x="331.53" y="588" width="200.9" height="2" fill="#383838"/>
<rect x="331.53" y="590" width="200.9" height="3" fill="#383838"/>
<rect x="331.53" y="593" width="200.9" height="2" fill="#383838"/>
<rect x="331.53" y="595" width="200.9" height="3" fill="#383838"/>
<rect x="331.53" y="598" width="200.9" height="8" fill="#383838"/>
<rect x="331.53" y="606" width="200.9" height="6" fill="#383838"/>
<rect x="331.53" y="612" width="200.9" height="10" fill="#3d3d3d"/>
<rect x="331.53" y="622" width="200.9" height="10" fill="#3d3d3d"/>
<rect x="331.53" y="632" width="200.9" height="8" fill="#3d3d3d"/>
<rect x="331.53" y="640" width="200.9" height="10" fill="#3d3d3d"/>
<rect x="331.53" y="650" width="200.9" height="15" fill="#3d3d3d"/>
<rect x="331.53" y="665" width="200.9" height="15" fill="#3b3b3b"/>
<rect x="331.53" y="680" width="200.9" height="10" fill="#3b3b3b"/>
<rect x="331.53" y="690" width="200.9" height="18" fill="#3d3d3d"/>
<rect x="331.53" y="708" width="200.9" height="24" fill="#3d3d3d"/>
<rect x="343.53" y="632" width="177" height="31" fill="#404040"/>
<rect x="363.53" y="205" width="20" height="11" fill="#474747"/>
<rect x="343.53" y="289" width="30" height="12" fill="#424242"/>
<rect x="371.53" y="409" width="12" height="36" fill="#363636"/>
<rect x="343.53" y="692" width="35" height="28" fill="#454545"/>
<rect x="441.53" y="567.5" width="14.5" height="10.3" fill="#808080"/>
<rect x="343.53" y="568.3" width="112.5" height="9.1" fill="#666666"/>
<rect x="343.53" y="569.5" width="112.5" height="6.7" fill="#999999"/>
<rect x="343.53" y="570.8" width="112.5" height="4" fill="#cccccc"/>
<rect x="403.53" y="570.8" width="35" height="4" fill="#bdbdbd"/>
<rect x="509.18" y="568.3" width="11.35" height="9.1" fill="#666666"/>
<rect x="509.18" y="569.5" width="11.35" height="6.7" fill="#949494"/>
<rect x="509.18" y="570.8" width="11.35" height="4" fill="#bdbdbd"/>
<rect x="443.53" y="569.2" width="12.5" height="1.6" fill="#b2b2b2"/>
<rect x="443.53" y="574.8" width="12.5" height="1.6" fill="#b2b2b2"/>
<rect x="447.53" y="570.2" width="8.5" height="5.2" fill="#dbdbdb"/>
<rect x="439.53" y="583" width="16" height="7" fill="#545454"/>
<rect x="443.53" y="591" width="12" height="5" fill="#474747"/>
<rect x="455.48" y="168" width="53.7" height="36" fill="#383838"/>
<rect x="455.48" y="168" width="12.1" height="36" fill="#ababab"/>
<rect x="469.48" y="168" width="12.2" height="36" fill="#a3a3a3"/>
<rect x="483.48" y="168" width="11.9" height="36" fill="#999999"/>
<rect x="497.48" y="168" width="11.7" height="36" fill="#8a8a8a"/>
<rect x="455.48" y="204" width="53.7" height="17" fill="#383838"/>
<rect x="455.48" y="204" width="12.1" height="17" fill="#a8a8a8"/>
<rect x="469.48" y="204" width="12.2" height="17" fill="#a3a3a3"/>
<rect x="483.48" y="204" width="11.9" height="17" fill="#999999"/>
<rect x="497.48" y="204" width="11.7" height="17" fill="#8a8a8a"/>
<rect x="455.48" y="221" width="53.7" height="35" fill="#474747"/>
<rect x="455.48" y="221" width="12.1" height="35" fill="#adadad"/>
<rect x="469.48" y="221" width="12.2" height="35" fill="#adadad"/>
<rect x="483.48" y="221" width="11.9" height="35" fill="#949494"/>
<rect x="497.48" y="221" width="11.7" height="35" fill="#949494"/>
<rect x="455.48" y="256" width="53.7" height="31" fill="#383838"/>
<rect x="455.48" y="256" width="12.1" height="31" fill="#b8b8b8"/>
<rect x="469.48" y="256" width="12.2" height="31" fill="#b8b8b8"/>
<rect x="483.48" y="256" width="11.9" height="31" fill="#b5b5b5"/>
<rect x="497.48" y="256" width="11.7" height="31" fill="#a8a8a8"/>
<rect x="455.48" y="287" width="53.7" height="14" fill="#3b3b3b"/>
<rect x="455.48" y="287" width="12.1" height="14" fill="#a1a1a1"/>
<rect x="469.48" y="287" width="12.2" height="14" fill="#999999"/>
<rect x="483.48" y="287" width="11.9" height="14" fill="#999999"/>
<rect x="497.48" y="287" width="11.7" height="14" fill="#949494"/>
<rect x="455.48" y="301" width="53.7" height="14" fill="#474747"/>
<rect x="455.48" y="301" width="12.1" height="14" fill="#a6a6a6"/>
<rect x="469.48" y="301" width="12.2" height="14" fill="#a8a8a8"/>
<rect x="483.48" y="301" width="11.9" height="14" fill="#9e9e9e"/>
<rect x="497.48" y="301" width="11.7" height="14" fill="#999999"/>
<rect x="455.48" y="315" width="53.7" height="21" fill="#333333"/>
<rect x="455.48" y="315" width="12.1" height="21" fill="#b8b8b8"/>
<rect x="469.48" y="315" width="12.2" height="21" fill="#a6a6a6"/>
<rect x="483.48" y="315" width="11.9" height="21" fill="#999999"/>
<rect x="497.48" y="315" width="11.7" height="21" fill="#999999"/>
<rect x="455.48" y="336" width="53.7" height="14" fill="#333333"/>
<rect x="455.48" y="336" width="12.1" height="14" fill="#a8a8a8"/>
<rect x="469.48" y="336" width="12.2" height="14" fill="#a3a3a3"/>
<rect x="483.48" y="336" width="11.9" height="14" fill="#999999"/>
<rect x="497.48" y="336" width="11.7" height="14" fill="#999999"/>
<rect x="455.48" y="350" width="53.7" height="14" fill="#333333"/>
<rect x="455.48" y="350" width="12.1" height="14" fill="#adadad"/>
<rect x="469.48" y="350" width="12.2" height="14" fill="#999999"/>
<rect x="483.48" y="350" width="11.9" height="14" fill="#a6a6a6"/>
<rect x="497.48" y="350" width="11.7" height="14" fill="#949494"/>
<rect x="455.48" y="364" width="53.7" height="28" fill="#303030"/>
<rect x="455.48" y="364" width="12.1" height="28" fill="#a6a6a6"/>
<rect x="469.48" y="364" width="12.2" height="28" fill="#999999"/>
<rect x="483.48" y="364" width="11.9" height="28" fill="#a8a8a8"/>
<rect x="497.48" y="364" width="11.7" height="28" fill="#949494"/>
<rect x="455.48" y="392" width="53.7" height="16" fill="#2e2e2e"/>
<rect x="455.48" y="392" width="12.1" height="16" fill="#999999"/>
<rect x="469.48" y="392" width="12.2" height="16" fill="#a3a3a3"/>
<rect x="483.48" y="392" width="11.9" height="16" fill="#999999"/>
<rect x="497.48" y="392" width="11.7" height="16" fill="#8c8c8c"/>
<rect x="455.48" y="408" width="53.7" height="22" fill="#2e2e2e"/>
<rect x="455.48" y="408" width="12.1" height="22" fill="#9e9e9e"/>
<rect x="469.48" y="408" width="12.2" height="22" fill="#a8a8a8"/>
<rect x="483.48" y="408" width="11.9" height="22" fill="#9e9e9e"/>
<rect x="497.48" y="408" width="11.7" height="22" fill="#8c8c8c"/>
<rect x="455.48" y="430" width="53.7" height="19" fill="#2e2e2e"/>
<rect x="455.48" y="430" width="12.1" height="19" fill="#b2b2b2"/>
<rect x="469.48" y="430" width="12.2" height="19" fill="#b8b8b8"/>
<rect x="483.48" y="430" width="11.9" height="19" fill="#a8a8a8"/>
<rect x="497.48" y="430" width="11.7" height="19" fill="#8f8f8f"/>
<rect x="455.48" y="449" width="53.7" height="13" fill="#363636"/>
<rect x="455.48" y="449" width="12.1" height="13" fill="#b2b2b2"/>
<rect x="469.48" y="449" width="12.2" height="13" fill="#b2b2b2"/>
<rect x="483.48" y="449" width="11.9" height="13" fill="#a8a8a8"/>
<rect x="497.48" y="449" width="11.7" height="13" fill="#a3a3a3"/>
<rect x="455.48" y="462" width="53.7" height="20" fill="#363636"/>
<rect x="455.48" y="462" width="12.1" height="20" fill="#b5b5b5"/>
<rect x="469.48" y="462" width="12.2" height="20" fill="#b5b5b5"/>
<rect x="483.48" y="462" width="11.9" height="20" fill="#a8a8a8"/>
<rect x="497.48" y="462" width="11.7" height="20" fill="#a3a3a3"/>
<rect x="455.48" y="482" width="53.7" height="23" fill="#363636"/>
<rect x="455.48" y="482" width="12.1" height="23" fill="#a8a8a8"/>
<rect x="469.48" y="482" width="12.2" height="23" fill="#a8a8a8"/>
<rect x="483.48" y="482" width="11.9" height="23" fill="#a3a3a3"/>
<rect x="497.48" y="482" width="11.7" height="23" fill="#9e9e9e"/>
<rect x="455.48" y="505" width="53.7" height="9" fill="#3b3b3b"/>
<rect x="455.48" y="505" width="12.1" height="9" fill="#adadad"/>
<rect x="469.48" y="505" width="12.2" height="9" fill="#adadad"/>
<rect x="483.48" y="505" width="11.9" height="9" fill="#cccccc"/>
<rect x="497.48" y="505" width="11.7" height="9" fill="#bfbfbf"/>
<rect x="455.48" y="514" width="53.7" height="17" fill="#303030"/>
<rect x="455.48" y="514" width="12.1" height="17" fill="#adadad"/>
<rect x="469.48" y="514" width="12.2" height="17" fill="#adadad"/>
<rect x="483.48" y="514" width="11.9" height="17" fill="#adadad"/>
<rect x="497.48" y="514" width="11.7" height="17" fill="#a6a6a6"/>
<rect x="455.48" y="531" width="53.7" height="35" fill="#303030"/>
<rect x="455.48" y="531" width="12.1" height="35" fill="#adadad"/>
<rect x="469.48" y="531" width="12.2" height="35" fill="#adadad"/>
<rect x="483.48" y="531" width="11.9" height="35" fill="#ababab"/>
<rect x="497.48" y="531" width="11.7" height="35" fill="#a3a3a3"/>
<rect x="455.48" y="566" width="53.7" height="6" fill="#cccccc"/>
<rect x="455.48" y="566" width="12.1" height="6" fill="#ffffff"/>
<rect x="469.48" y="566" width="12.2" height="6" fill="#ffffff"/>
<rect x="483.48" y="566" width="11.9" height="6" fill="#ffffff"/>
<rect x="497.48" y="566" width="11.7" height="6" fill="#ffffff"/>
<rect x="455.48" y="572" width="53.7" height="6" fill="#cccccc"/>
<rect x="455.48" y="572" width="12.1" height="6" fill="#ffffff"/>
<rect x="469.48" y="572" width="12.2" height="6" fill="#ffffff"/>
<rect x="483.48" y="572" width="11.9" height="6" fill="#fafafa"/>
<rect x="497.48" y="572" width="11.7" height="6" fill="#ffffff"/>
<rect x="455.48" y="578" width="53.7" height="5" fill="#4c4c4c"/>
<rect x="455.48" y="578" width="12.1" height="5" fill="#d1d1d1"/>
<rect x="469.48" y="578" width="12.2" height="5" fill="#d6d6d6"/>
<rect x="483.48" y="578" width="11.9" height="5" fill="#d1d1d1"/>
<rect x="497.48" y="578" width="11.7" height="5" fill="#c2c2c2"/>
<rect x="455.48" y="583" width="53.7" height="5" fill="#4c4c4c"/>
<rect x="455.48" y="583" width="12.1" height="5" fill="#bfbfbf"/>
<rect x="469.48" y="583" width="12.2" height="5" fill="#c2c2c2"/>
<rect x="483.48" y="583" width="11.9" height="5" fill="#bfbfbf"/>
<rect x="497.48" y="583" width="11.7" height="5" fill="#b8b8b8"/>
<rect x="455.48" y="588" width="53.7" height="2" fill="#4c4c4c"/>
<rect x="455.48" y="588" width="12.1" height="2" fill="#e0e0e0"/>
<rect x="469.48" y="588" width="12.2" height="2" fill="#e0e0e0"/>
<rect x="483.48" y="588" width="11.9" height="2" fill="#e0e0e0"/>
<rect x="497.48" y="588" width="11.7" height="2" fill="#cccccc"/>
<rect x="455.48" y="590" width="53.7" height="3" fill="#4c4c4c"/>
<rect x="455.48" y="590" width="12.1" height="3" fill="#ebebeb"/>
<rect x="469.48" y="590" width="12.2" height="3" fill="#ededed"/>
<rect x="483.48" y="590" width="11.9" height="3" fill="#ebebeb"/>
<rect x="497.48" y="590" width="11.7" height="3" fill="#dbdbdb"/>
<rect x="455.48" y="593" width="53.7" height="2" fill="#4c4c4c"/>
<rect x="455.48" y="593" width="12.1" height="2" fill="#b8b8b8"/>
<rect x="469.48" y="593" width="12.2" height="2" fill="#b8b8b8"/>
<rect x="483.48" y="593" width="11.9" height="2" fill="#b8b8b8"/>
<rect x="497.48" y="593" width="11.7" height="2" fill="#b2b2b2"/>
<rect x="455.48" y="595" width="53.7" height="3" fill="#4c4c4c"/>
<rect x="455.48" y="595" width="12.1" height="3" fill="#b8b8b8"/>
<rect x="469.48" y="595" width="12.2" height="3" fill="#bababa"/>
<rect x="483.48" y="595" width="11.9" height="3" fill="#b8b8b8"/>
<rect x="497.48" y="595" width="11.7" height="3" fill="#b5b5b5"/>
<rect x="455.48" y="598" width="53.7" height="8" fill="#4c4c4c"/>
<rect x="455.48" y="598" width="12.1" height="8" fill="#adadad"/>
<rect x="469.48" y="598" width="12.2" height="8" fill="#b2b2b2"/>
<rect x="483.48" y="598" width="11.9" height="8" fill="#bfbfbf"/>
<rect x="497.48" y="598" width="11.7" height="8" fill="#a8a8a8"/>
<rect x="455.48" y="606" width="53.7" height="6" fill="#4c4c4c"/>
<rect x="455.48" y="606" width="12.1" height="6" fill="#b8b8b8"/>
<rect x="469.48" y="606" width="12.2" height="6" fill="#adadad"/>
<rect x="483.48" y="606" width="11.9" height="6" fill="#b2b2b2"/>
<rect x="497.48" y="606" width="11.7" height="6" fill="#a3a3a3"/>
<rect x="455.48" y="612" width="53.7" height="10" fill="#3b3b3b"/>
<rect x="455.48" y="612" width="12.1" height="10" fill="#b2b2b2"/>
<rect x="469.48" y="612" width="12.2" height="10" fill="#b2b2b2"/>
<rect x="483.48" y="612" width="11.9" height="10" fill="#a8a8a8"/>
<rect x="497.48" y="612" width="11.7" height="10" fill="#adadad"/>
<rect x="455.48" y="622" width="53.7" height="10" fill="#3b3b3b"/>
<rect x="455.48" y="622" width="12.1" height="10" fill="#adadad"/>
<rect x="469.48" y="622" width="12.2" height="10" fill="#adadad"/>
<rect x="483.48" y="622" width="11.9" height="10" fill="#a6a6a6"/>
<rect x="497.48" y="622" width="11.7" height="10" fill="#a8a8a8"/>
<rect x="455.48" y="632" width="53.7" height="8" fill="#3b3b3b"/>
<rect x="455.48" y="632" width="12.1" height="8" fill="#bdbdbd"/>
<rect x="469.48" y="632" width="12.2" height="8" fill="#bdbdbd"/>
<rect x="483.48" y="632" width="11.9" height="8" fill="#a8a8a8"/>
<rect x="497.48" y="632" width="11.7" height="8" fill="#a3a3a3"/>
<rect x="455.48" y="640" width="53.7" height="10" fill="#3b3b3b"/>
<rect x="455.48" y="640" width="12.1" height="10" fill="#b2b2b2"/>
<rect x="469.48" y="640" width="12.2" height="10" fill="#a8a8a8"/>
<rect x="483.48" y="640" width="11.9" height="10" fill="#949494"/>
<rect x="497.48" y="640" width="11.7" height="10" fill="#949494"/>
<rect x="455.48" y="650" width="53.7" height="15" fill="#3b3b3b"/>
<rect x="455.48" y="650" width="12.1" height="15" fill="#adadad"/>
<rect x="469.48" y="650" width="12.2" height="15" fill="#a3a3a3"/>
<rect x="483.48" y="650" width="11.9" height="15" fill="#808080"/>
<rect x="497.48" y="650" width="11.7" height="15" fill="#858585"/>
<rect x="455.48" y="665" width="53.7" height="15" fill="#383838"/>
<rect x="455.48" y="665" width="12.1" height="15" fill="#b2b2b2"/>
<rect x="469.48" y="665" width="12.2" height="15" fill="#a6a6a6"/>
<rect x="483.48" y="665" width="11.9" height="15" fill="#a6a6a6"/>
<rect x="497.48" y="665" width="11.7" height="15" fill="#a3a3a3"/>
<rect x="455.48" y="680" width="53.7" height="10" fill="#383838"/>
<rect x="455.48" y="680" width="12.1" height="10" fill="#a8a8a8"/>
<rect x="469.48" y="680" width="12.2" height="10" fill="#a3a3a3"/>
<rect x="483.48" y="680" width="11.9" height="10" fill="#a3a3a3"/>
<rect x="497.48" y="680" width="11.7" height="10" fill="#9e9e9e"/>
<rect x="455.48" y="690" width="53.7" height="18" fill="#3b3b3b"/>
<rect x="455.48" y="690" width="12.1" height="18" fill="#bababa"/>
<rect x="469.48" y="690" width="12.2" height="18" fill="#bababa"/>
<rect x="483.48" y="690" width="11.9" height="18" fill="#b8b8b8"/>
<rect x="497.48" y="690" width="11.7" height="18" fill="#b0b0b0"/>
<rect x="455.48" y="708" width="53.7" height="24" fill="#3b3b3b"/>
<rect x="455.48" y="708" width="12.1" height="24" fill="#bdbdbd"/>
<rect x="469.48" y="708" width="12.2" height="24" fill="#bdbdbd"/>
<rect x="483.48" y="708" width="11.9" height="24" fill="#bababa"/>
<rect x="497.48" y="708" width="11.7" height="24" fill="#b2b2b2"/>
<rect x="331.53" y="211" width="200.9" height="2" fill="#3b3b3b"/>
<rect x="455.48" y="211" width="53.7" height="2" fill="#3b3b3b"/>
<rect x="455.48" y="211" width="12.1" height="2" fill="#8f8f8f"/>
<rect x="469.48" y="211" width="12.2" height="2" fill="#8a8a8a"/>
<rect x="483.48" y="211" width="11.9" height="2" fill="#808080"/>
<rect x="497.48" y="211" width="11.7" height="2" fill="#707070"/>
<rect x="331.53" y="312" width="200.9" height="1" fill="#616161"/>
<rect x="455.48" y="312" width="53.7" height="1" fill="#4a4a4a"/>
<rect x="455.48" y="312" width="12.1" height="1" fill="#8c8c8c"/>
<rect x="469.48" y="312" width="12.2" height="1" fill="#8f8f8f"/>
<rect x="483.48" y="312" width="11.9" height="1" fill="#858585"/>
<rect x="497.48" y="312" width="11.7" height="1" fill="#808080"/>
<rect x="331.53" y="326" width="200.9" height="2" fill="#4c4c4c"/>
<rect x="455.48" y="326" width="53.7" height="2" fill="#363636"/>
<rect x="455.48" y="326" width="12.1" height="2" fill="#9e9e9e"/>
<rect x="469.48" y="326" width="12.2" height="2" fill="#8c8c8c"/>
<rect x="483.48" y="326" width="11.9" height="2" fill="#808080"/>
<rect x="497.48" y="326" width="11.7" height="2" fill="#808080"/>
<rect x="331.53" y="338" width="200.9" height="1" fill="#4c4c4c"/>
<rect x="455.48" y="338" width="53.7" height="1" fill="#363636"/>
<rect x="455.48" y="338" width="12.1" height="1" fill="#8f8f8f"/>
<rect x="469.48" y="338" width="12.2" height="1" fill="#8a8a8a"/>
<rect x="483.48" y="338" width="11.9" height="1" fill="#808080"/>
<rect x="497.48" y="338" width="11.7" height="1" fill="#808080"/>
<rect x="331.53" y="352" width="200.9" height="1" fill="#4c4c4c"/>
<rect x="455.48" y="352" width="53.7" height="1" fill="#363636"/>
<rect x="455.48" y="352" width="12.1" height="1" fill="#949494"/>
<rect x="469.48" y="352" width="12.2" height="1" fill="#808080"/>
<rect x="483.48" y="352" width="11.9" height="1" fill="#8c8c8c"/>
<rect x="497.48" y="352" width="11.7" height="1" fill="#7a7a7a"/>
<rect x="331.53" y="354" width="200.9" height="2" fill="#454545"/>
<rect x="455.48" y="354" width="53.7" height="2" fill="#363636"/>
<rect x="455.48" y="354" width="12.1" height="2" fill="#949494"/>
<rect x="469.48" y="354" width="12.2" height="2" fill="#808080"/>
<rect x="483.48" y="354" width="11.9" height="2" fill="#8c8c8c"/>
<rect x="497.48" y="354" width="11.7" height="2" fill="#7a7a7a"/>
<rect x="331.53" y="366" width="200.9" height="2" fill="#4a4a4a"/>
<rect x="455.48" y="366" width="53.7" height="2" fill="#333333"/>
<rect x="455.48" y="366" width="12.1" height="2" fill="#8c8c8c"/>
<rect x="469.48" y="366" width="12.2" height="2" fill="#808080"/>
<rect x="483.48" y="366" width="11.9" height="2" fill="#8f8f8f"/>
<rect x="497.48" y="366" width="11.7" height="2" fill="#7a7a7a"/>
<rect x="331.53" y="378" width="200.9" height="2" fill="#4a4a4a"/>
<rect x="455.48" y="378" width="53.7" height="2" fill="#333333"/>
<rect x="455.48" y="378" width="12.1" height="2" fill="#8c8c8c"/>
<rect x="469.48" y="378" width="12.2" height="2" fill="#808080"/>
<rect x="483.48" y="378" width="11.9" height="2" fill="#8f8f8f"/>
<rect x="497.48" y="378" width="11.7" height="2" fill="#7a7a7a"/>
<rect x="331.53" y="235" width="200.9" height="2" fill="#5c5c5c"/>
<rect x="455.48" y="235" width="53.7" height="2" fill="#4a4a4a"/>
<rect x="455.48" y="235" width="12.1" height="2" fill="#949494"/>
<rect x="469.48" y="235" width="12.2" height="2" fill="#949494"/>
<rect x="483.48" y="235" width="11.9" height="2" fill="#7a7a7a"/>
<rect x="497.48" y="235" width="11.7" height="2" fill="#7a7a7a"/>
<rect x="331.53" y="232" width="200.9" height="1" fill="#5c5c5c"/>
<rect x="455.48" y="232" width="53.7" height="1" fill="#4a4a4a"/>
<rect x="455.48" y="232" width="12.1" height="1" fill="#949494"/>
<rect x="469.48" y="232" width="12.2" height="1" fill="#949494"/>
<rect x="483.48" y="232" width="11.9" height="1" fill="#7a7a7a"/>
<rect x="497.48" y="232" width="11.7" height="1" fill="#7a7a7a"/>
<rect x="331.53" y="246" width="200.9" height="1" fill="#5c5c5c"/>
<rect x="455.48" y="246" width="53.7" height="1" fill="#4a4a4a"/>
<rect x="455.48" y="246" width="12.1" height="1" fill="#949494"/>
<rect x="469.48" y="246" width="12.2" height="1" fill="#949494"/>
<rect x="483.48" y="246" width="11.9" height="1" fill="#7a7a7a"/>
<rect x="497.48" y="246" width="11.7" height="1" fill="#7a7a7a"/>
<rect x="331.53" y="499" width="200.9" height="2" fill="#424242"/>
<rect x="455.48" y="499" width="53.7" height="2" fill="#383838"/>
<rect x="455.48" y="499" width="12.1" height="2" fill="#8f8f8f"/>
<rect x="469.48" y="499" width="12.2" height="2" fill="#8f8f8f"/>
<rect x="483.48" y="499" width="11.9" height="2" fill="#8a8a8a"/>
<rect x="497.48" y="499" width="11.7" height="2" fill="#858585"/>
<rect x="510.53" y="318" width="10" height="3" fill="#757575"/>
<rect x="455.48" y="566" width="53.7" height="1.4" fill="#e0e0e0"/>
</g></g>
<rect x="399" y="182" width="1" height="538" fill="#46ffb4" opacity="0.85"/>
<g clip-path="url(#cp1)"><use href="#ov" x="343.53"/></g>
<g clip-path="url(#cp2)"><g filter="url(#jet2)">
<rect x="543.8" y="168" width="200.9" height="564" fill="#303030"/>
<rect x="543.8" y="168" width="200.9" height="36" fill="#303030"/>
<rect x="543.8" y="204" width="200.9" height="17" fill="#303030"/>
<rect x="543.8" y="221" width="200.9" height="35" fill="#383838"/>
<rect x="543.8" y="256" width="200.9" height="31" fill="#303030"/>
<rect x="543.8" y="287" width="200.9" height="14" fill="#303030"/>
<rect x="543.8" y="301" width="200.9" height="14" fill="#383838"/>
<rect x="543.8" y="315" width="200.9" height="21" fill="#2e2e2e"/>
<rect x="543.8" y="336" width="200.9" height="14" fill="#2e2e2e"/>
<rect x="543.8" y="350" width="200.9" height="14" fill="#2e2e2e"/>
<rect x="543.8" y="364" width="200.9" height="28" fill="#2e2e2e"/>
<rect x="543.8" y="392" width="200.9" height="16" fill="#2e2e2e"/>
<rect x="543.8" y="408" width="200.9" height="22" fill="#2b2b2b"/>
<rect x="543.8" y="430" width="200.9" height="19" fill="#2e2e2e"/>
<rect x="543.8" y="449" width="200.9" height="13" fill="#333333"/>
<rect x="543.8" y="462" width="200.9" height="20" fill="#333333"/>
<rect x="543.8" y="482" width="200.9" height="23" fill="#333333"/>
<rect x="543.8" y="505" width="200.9" height="9" fill="#383838"/>
<rect x="543.8" y="514" width="200.9" height="17" fill="#303030"/>
<rect x="543.8" y="531" width="200.9" height="35" fill="#303030"/>
<rect x="543.8" y="566" width="200.9" height="6" fill="#404040"/>
<rect x="543.8" y="572" width="200.9" height="6" fill="#3d3d3d"/>
<rect x="543.8" y="578" width="200.9" height="5" fill="#363636"/>
<rect x="543.8" y="583" width="200.9" height="5" fill="#363636"/>
<rect x="543.8" y="588" width="200.9" height="2" fill="#363636"/>
<rect x="543.8" y="590" width="200.9" height="3" fill="#363636"/>
<rect x="543.8" y="593" width="200.9" height="2" fill="#363636"/>
<rect x="543.8" y="595" width="200.9" height="3" fill="#363636"/>
<rect x="543.8" y="598" width="200.9" height="8" fill="#363636"/>
<rect x="543.8" y="606" width="200.9" height="6" fill="#363636"/>
<rect x="543.8" y="612" width="200.9" height="10" fill="#383838"/>
<rect x="543.8" y="622" width="200.9" height="10" fill="#383838"/>
<rect x="543.8" y="632" width="200.9" height="8" fill="#383838"/>
<rect x="543.8" y="640" width="200.9" height="10" fill="#383838"/>
<rect x="543.8" y="650" width="200.9" height="15" fill="#383838"/>
<rect x="543.8" y="665" width="200.9" height="15" fill="#383838"/>
<rect x="543.8" y="680" width="200.9" height="10" fill="#383838"/>
<rect x="543.8" y="690" width="200.9" height="18" fill="#383838"/>
<rect x="543.8" y="708" width="200.9" height="24" fill="#383838"/>
<rect x="626.8" y="300" width="1" height="45" fill="#666666"/>
<rect x="555.8" y="507" width="40" height="6" fill="#474747"/>
<rect x="555.8" y="632" width="177" height="31" fill="#3d3d3d"/>
<rect x="555.8" y="692" width="177" height="28" fill="#3b3b3b"/>
<rect x="555.8" y="566.4" width="112.5" height="6.4" fill="#5c5c5c"/>
<rect x="555.8" y="572.8" width="88" height="5.2" fill="#454545"/>
<rect x="641.8" y="566" width="26.5" height="12" fill="#6b6b6b"/>
<rect x="652.8" y="566" width="15.5" height="12" fill="#808080"/>
<rect x="555.8" y="567.6" width="72" height="3.6" fill="#949494"/>
<rect x="627.8" y="568" width="25" height="3" fill="#787878"/>
<rect x="655.8" y="567.4" width="12.5" height="4.4" fill="#a8a8a8"/>
<rect x="660.8" y="568" width="7.5" height="3.2" fill="#c2c2c2"/>
<rect x="721.45" y="566" width="11.35" height="12" fill="#737373"/>
<rect x="721.45" y="567" width="11.35" height="5" fill="#8c8c8c"/>
<rect x="649.8" y="579" width="18" height="11" fill="#595959"/>
<rect x="655.8" y="591" width="12" height="6" fill="#474747"/>
<rect x="667.75" y="168" width="53.7" height="36" fill="#2e2e2e"/>
<rect x="667.75" y="168" width="12.1" height="36" fill="#b0b0b0"/>
<rect x="681.75" y="168" width="12.2" height="36" fill="#a6a6a6"/>
<rect x="695.75" y="168" width="11.9" height="36" fill="#9e9e9e"/>
<rect x="709.75" y="168" width="11.7" height="36" fill="#a3a3a3"/>
<rect x="667.75" y="204" width="53.7" height="17" fill="#2e2e2e"/>
<rect x="667.75" y="204" width="12.1" height="17" fill="#ababab"/>
<rect x="681.75" y="204" width="12.2" height="17" fill="#a6a6a6"/>
<rect x="695.75" y="204" width="11.9" height="17" fill="#9e9e9e"/>
<rect x="709.75" y="204" width="11.7" height="17" fill="#a3a3a3"/>
<rect x="667.75" y="221" width="53.7" height="35" fill="#363636"/>
<rect x="667.75" y="221" width="12.1" height="35" fill="#a6a6a6"/>
<rect x="681.75" y="221" width="12.2" height="35" fill="#949494"/>
<rect x="695.75" y="221" width="11.9" height="35" fill="#919191"/>
<rect x="709.75" y="221" width="11.7" height="35" fill="#a1a1a1"/>
<rect x="667.75" y="256" width="53.7" height="31" fill="#2e2e2e"/>
<rect x="667.75" y="256" width="12.1" height="31" fill="#b5b5b5"/>
<rect x="681.75" y="256" width="12.2" height="31" fill="#a6a6a6"/>
<rect x="695.75" y="256" width="11.9" height="31" fill="#ababab"/>
<rect x="709.75" y="256" width="11.7" height="31" fill="#999999"/>
<rect x="667.75" y="287" width="53.7" height="14" fill="#2e2e2e"/>
<rect x="667.75" y="287" width="12.1" height="14" fill="#a3a3a3"/>
<rect x="681.75" y="287" width="12.2" height="14" fill="#999999"/>
<rect x="695.75" y="287" width="11.9" height="14" fill="#8c8c8c"/>
<rect x="709.75" y="287" width="11.7" height="14" fill="#8c8c8c"/>
<rect x="667.75" y="301" width="53.7" height="14" fill="#363636"/>
<rect x="667.75" y="301" width="12.1" height="14" fill="#a1a1a1"/>
<rect x="681.75" y="301" width="12.2" height="14" fill="#a6a6a6"/>
<rect x="695.75" y="301" width="11.9" height="14" fill="#949494"/>
<rect x="709.75" y="301" width="11.7" height="14" fill="#858585"/>
<rect x="667.75" y="315" width="53.7" height="21" fill="#2b2b2b"/>
<rect x="667.75" y="315" width="12.1" height="21" fill="#b0b0b0"/>
<rect x="681.75" y="315" width="12.2" height="21" fill="#ababab"/>
<rect x="695.75" y="315" width="11.9" height="21" fill="#a6a6a6"/>
<rect x="709.75" y="315" width="11.7" height="21" fill="#a3a3a3"/>
<rect x="667.75" y="336" width="53.7" height="14" fill="#2b2b2b"/>
<rect x="667.75" y="336" width="12.1" height="14" fill="#adadad"/>
<rect x="681.75" y="336" width="12.2" height="14" fill="#a8a8a8"/>
<rect x="695.75" y="336" width="11.9" height="14" fill="#a6a6a6"/>
<rect x="709.75" y="336" width="11.7" height="14" fill="#a3a3a3"/>
<rect x="667.75" y="350" width="53.7" height="14" fill="#2b2b2b"/>
<rect x="667.75" y="350" width="12.1" height="14" fill="#b2b2b2"/>
<rect x="681.75" y="350" width="12.2" height="14" fill="#a1a1a1"/>
<rect x="695.75" y="350" width="11.9" height="14" fill="#999999"/>
<rect x="709.75" y="350" width="11.7" height="14" fill="#a3a3a3"/>
<rect x="667.75" y="364" width="53.7" height="28" fill="#2b2b2b"/>
<rect x="667.75" y="364" width="12.1" height="28" fill="#b0b0b0"/>
<rect x="681.75" y="364" width="12.2" height="28" fill="#a1a1a1"/>
<rect x="695.75" y="364" width="11.9" height="28" fill="#999999"/>
<rect x="709.75" y="364" width="11.7" height="28" fill="#a3a3a3"/>
<rect x="667.75" y="392" width="53.7" height="16" fill="#2b2b2b"/>
<rect x="667.75" y="392" width="12.1" height="16" fill="#a6a6a6"/>
<rect x="681.75" y="392" width="12.2" height="16" fill="#b0b0b0"/>
<rect x="695.75" y="392" width="11.9" height="16" fill="#a6a6a6"/>
<rect x="709.75" y="392" width="11.7" height="16" fill="#a3a3a3"/>
<rect x="667.75" y="408" width="53.7" height="22" fill="#292929"/>
<rect x="667.75" y="408" width="12.1" height="22" fill="#a1a1a1"/>
<rect x="681.75" y="408" width="12.2" height="22" fill="#b0b0b0"/>
<rect x="695.75" y="408" width="11.9" height="22" fill="#a1a1a1"/>
<rect x="709.75" y="408" width="11.7" height="22" fill="#9e9e9e"/>
<rect x="667.75" y="430" width="53.7" height="19" fill="#2b2b2b"/>
<rect x="667.75" y="430" width="12.1" height="19" fill="#ababab"/>
<rect x="681.75" y="430" width="12.2" height="19" fill="#b5b5b5"/>
<rect x="695.75" y="430" width="11.9" height="19" fill="#a1a1a1"/>
<rect x="709.75" y="430" width="11.7" height="19" fill="#a1a1a1"/>
<rect x="667.75" y="449" width="53.7" height="13" fill="#303030"/>
<rect x="667.75" y="449" width="12.1" height="13" fill="#b0b0b0"/>
<rect x="681.75" y="449" width="12.2" height="13" fill="#b0b0b0"/>
<rect x="695.75" y="449" width="11.9" height="13" fill="#ababab"/>
<rect x="709.75" y="449" width="11.7" height="13" fill="#a6a6a6"/>
<rect x="667.75" y="462" width="53.7" height="20" fill="#303030"/>
<rect x="667.75" y="462" width="12.1" height="20" fill="#bdbdbd"/>
<rect x="681.75" y="462" width="12.2" height="20" fill="#bdbdbd"/>
<rect x="695.75" y="462" width="11.9" height="20" fill="#b0b0b0"/>
<rect x="709.75" y="462" width="11.7" height="20" fill="#ababab"/>
<rect x="667.75" y="482" width="53.7" height="23" fill="#303030"/>
<rect x="667.75" y="482" width="12.1" height="23" fill="#ababab"/>
<rect x="681.75" y="482" width="12.2" height="23" fill="#b0b0b0"/>
<rect x="695.75" y="482" width="11.9" height="23" fill="#a6a6a6"/>
<rect x="709.75" y="482" width="11.7" height="23" fill="#a3a3a3"/>
<rect x="667.75" y="505" width="53.7" height="9" fill="#363636"/>
<rect x="667.75" y="505" width="12.1" height="9" fill="#ababab"/>
<rect x="681.75" y="505" width="12.2" height="9" fill="#a8a8a8"/>
<rect x="695.75" y="505" width="11.9" height="9" fill="#c4c4c4"/>
<rect x="709.75" y="505" width="11.7" height="9" fill="#b0b0b0"/>
<rect x="667.75" y="514" width="53.7" height="17" fill="#2e2e2e"/>
<rect x="667.75" y="514" width="12.1" height="17" fill="#ababab"/>
<rect x="681.75" y="514" width="12.2" height="17" fill="#a8a8a8"/>
<rect x="695.75" y="514" width="11.9" height="17" fill="#a8a8a8"/>
<rect x="709.75" y="514" width="11.7" height="17" fill="#a1a1a1"/>
<rect x="667.75" y="531" width="53.7" height="35" fill="#2e2e2e"/>
<rect x="667.75" y="531" width="12.1" height="35" fill="#ababab"/>
<rect x="681.75" y="531" width="12.2" height="35" fill="#a8a8a8"/>
<rect x="695.75" y="531" width="11.9" height="35" fill="#a6a6a6"/>
<rect x="709.75" y="531" width="11.7" height="35" fill="#a1a1a1"/>
<rect x="667.75" y="566" width="53.7" height="6" fill="#b8b8b8"/>
<rect x="667.75" y="566" width="12.1" height="6" fill="#ffffff"/>
<rect x="681.75" y="566" width="12.2" height="6" fill="#ffffff"/>
<rect x="695.75" y="566" width="11.9" height="6" fill="#ffffff"/>
<rect x="709.75" y="566" width="11.7" height="6" fill="#ffffff"/>
<rect x="667.75" y="572" width="53.7" height="6" fill="#b8b8b8"/>
<rect x="667.75" y="572" width="12.1" height="6" fill="#ffffff"/>
<rect x="681.75" y="572" width="12.2" height="6" fill="#ffffff"/>
<rect x="695.75" y="572" width="11.9" height="6" fill="#ffffff"/>
<rect x="709.75" y="572" width="11.7" height="6" fill="#fafafa"/>
<rect x="667.75" y="578" width="53.7" height="5" fill="#4a4a4a"/>
<rect x="667.75" y="578" width="12.1" height="5" fill="#dbdbdb"/>
<rect x="681.75" y="578" width="12.2" height="5" fill="#dedede"/>
<rect x="695.75" y="578" width="11.9" height="5" fill="#dbdbdb"/>
<rect x="709.75" y="578" width="11.7" height="5" fill="#d6d6d6"/>
<rect x="667.75" y="583" width="53.7" height="5" fill="#4a4a4a"/>
<rect x="667.75" y="583" width="12.1" height="5" fill="#e0e0e0"/>
<rect x="681.75" y="583" width="12.2" height="5" fill="#e3e3e3"/>
<rect x="695.75" y="583" width="11.9" height="5" fill="#dbdbdb"/>
<rect x="709.75" y="583" width="11.7" height="5" fill="#d6d6d6"/>
<rect x="667.75" y="588" width="53.7" height="2" fill="#4a4a4a"/>
<rect x="667.75" y="588" width="12.1" height="2" fill="#b8b8b8"/>
<rect x="681.75" y="588" width="12.2" height="2" fill="#b8b8b8"/>
<rect x="695.75" y="588" width="11.9" height="2" fill="#b8b8b8"/>
<rect x="709.75" y="588" width="11.7" height="2" fill="#b8b8b8"/>
<rect x="667.75" y="590" width="53.7" height="3" fill="#4a4a4a"/>
<rect x="667.75" y="590" width="12.1" height="3" fill="#e6e6e6"/>
<rect x="681.75" y="590" width="12.2" height="3" fill="#e6e6e6"/>
<rect x="695.75" y="590" width="11.9" height="3" fill="#e6e6e6"/>
<rect x="709.75" y="590" width="11.7" height="3" fill="#e0e0e0"/>
<rect x="667.75" y="593" width="53.7" height="2" fill="#4a4a4a"/>
<rect x="667.75" y="593" width="12.1" height="2" fill="#9e9e9e"/>
<rect x="681.75" y="593" width="12.2" height="2" fill="#a3a3a3"/>
<rect x="695.75" y="593" width="11.9" height="2" fill="#a3a3a3"/>
<rect x="709.75" y="593" width="11.7" height="2" fill="#a3a3a3"/>
<rect x="667.75" y="595" width="53.7" height="3" fill="#4a4a4a"/>
<rect x="667.75" y="595" width="12.1" height="3" fill="#cccccc"/>
<rect x="681.75" y="595" width="12.2" height="3" fill="#cccccc"/>
<rect x="695.75" y="595" width="11.9" height="3" fill="#cccccc"/>
<rect x="709.75" y="595" width="11.7" height="3" fill="#c2c2c2"/>
<rect x="667.75" y="598" width="53.7" height="8" fill="#4a4a4a"/>
<rect x="667.75" y="598" width="12.1" height="8" fill="#bdbdbd"/>
<rect x="681.75" y="598" width="12.2" height="8" fill="#bdbdbd"/>
<rect x="695.75" y="598" width="11.9" height="8" fill="#c2c2c2"/>
<rect x="709.75" y="598" width="11.7" height="8" fill="#bdbdbd"/>
<rect x="667.75" y="606" width="53.7" height="6" fill="#4a4a4a"/>
<rect x="667.75" y="606" width="12.1" height="6" fill="#cccccc"/>
<rect x="681.75" y="606" width="12.2" height="6" fill="#c7c7c7"/>
<rect x="695.75" y="606" width="11.9" height="6" fill="#c7c7c7"/>
<rect x="709.75" y="606" width="11.7" height="6" fill="#bdbdbd"/>
<rect x="667.75" y="612" width="53.7" height="10" fill="#363636"/>
<rect x="667.75" y="612" width="12.1" height="10" fill="#b0b0b0"/>
<rect x="681.75" y="612" width="12.2" height="10" fill="#b0b0b0"/>
<rect x="695.75" y="612" width="11.9" height="10" fill="#bdbdbd"/>
<rect x="709.75" y="612" width="11.7" height="10" fill="#ababab"/>
<rect x="667.75" y="622" width="53.7" height="10" fill="#363636"/>
<rect x="667.75" y="622" width="12.1" height="10" fill="#ababab"/>
<rect x="681.75" y="622" width="12.2" height="10" fill="#ababab"/>
<rect x="695.75" y="622" width="11.9" height="10" fill="#ababab"/>
<rect x="709.75" y="622" width="11.7" height="10" fill="#a6a6a6"/>
<rect x="667.75" y="632" width="53.7" height="8" fill="#363636"/>
<rect x="667.75" y="632" width="12.1" height="8" fill="#bababa"/>
<rect x="681.75" y="632" width="12.2" height="8" fill="#b5b5b5"/>
<rect x="695.75" y="632" width="11.9" height="8" fill="#a1a1a1"/>
<rect x="709.75" y="632" width="11.7" height="8" fill="#a6a6a6"/>
<rect x="667.75" y="640" width="53.7" height="10" fill="#363636"/>
<rect x="667.75" y="640" width="12.1" height="10" fill="#ababab"/>
<rect x="681.75" y="640" width="12.2" height="10" fill="#a1a1a1"/>
<rect x="695.75" y="640" width="11.9" height="10" fill="#a6a6a6"/>
<rect x="709.75" y="640" width="11.7" height="10" fill="#a3a3a3"/>
<rect x="667.75" y="650" width="53.7" height="15" fill="#363636"/>
<rect x="667.75" y="650" width="12.1" height="15" fill="#ababab"/>
<rect x="681.75" y="650" width="12.2" height="15" fill="#a6a6a6"/>
<rect x="695.75" y="650" width="11.9" height="15" fill="#a3a3a3"/>
<rect x="709.75" y="650" width="11.7" height="15" fill="#949494"/>
<rect x="667.75" y="665" width="53.7" height="15" fill="#363636"/>
<rect x="667.75" y="665" width="12.1" height="15" fill="#b5b5b5"/>
<rect x="681.75" y="665" width="12.2" height="15" fill="#ababab"/>
<rect x="695.75" y="665" width="11.9" height="15" fill="#ababab"/>
<rect x="709.75" y="665" width="11.7" height="15" fill="#a1a1a1"/>
<rect x="667.75" y="680" width="53.7" height="10" fill="#363636"/>
<rect x="667.75" y="680" width="12.1" height="10" fill="#a1a1a1"/>
<rect x="681.75" y="680" width="12.2" height="10" fill="#a3a3a3"/>
<rect x="695.75" y="680" width="11.9" height="10" fill="#a1a1a1"/>
<rect x="709.75" y="680" width="11.7" height="10" fill="#9e9e9e"/>
<rect x="667.75" y="690" width="53.7" height="18" fill="#363636"/>
<rect x="667.75" y="690" width="12.1" height="18" fill="#b2b2b2"/>
<rect x="681.75" y="690" width="12.2" height="18" fill="#b0b0b0"/>
<rect x="695.75" y="690" width="11.9" height="18" fill="#a6a6a6"/>
<rect x="709.75" y="690" width="11.7" height="18" fill="#a6a6a6"/>
<rect x="667.75" y="708" width="53.7" height="24" fill="#363636"/>
<rect x="667.75" y="708" width="12.1" height="24" fill="#b2b2b2"/>
<rect x="681.75" y="708" width="12.2" height="24" fill="#b2b2b2"/>
<rect x="695.75" y="708" width="11.9" height="24" fill="#a6a6a6"/>
<rect x="709.75" y="708" width="11.7" height="24" fill="#a6a6a6"/>
<rect x="543.8" y="211" width="200.9" height="2" fill="#303030"/>
<rect x="667.75" y="211" width="53.7" height="2" fill="#303030"/>
<rect x="667.75" y="211" width="12.1" height="2" fill="#919191"/>
<rect x="681.75" y="211" width="12.2" height="2" fill="#8c8c8c"/>
<rect x="695.75" y="211" width="11.9" height="2" fill="#858585"/>
<rect x="709.75" y="211" width="11.7" height="2" fill="#8a8a8a"/>
<rect x="543.8" y="312" width="200.9" height="1" fill="#4f4f4f"/>
<rect x="667.75" y="312" width="53.7" height="1" fill="#383838"/>
<rect x="667.75" y="312" width="12.1" height="1" fill="#878787"/>
<rect x="681.75" y="312" width="12.2" height="1" fill="#8c8c8c"/>
<rect x="695.75" y="312" width="11.9" height="1" fill="#7a7a7a"/>
<rect x="709.75" y="312" width="11.7" height="1" fill="#6b6b6b"/>
<rect x="543.8" y="326" width="200.9" height="2" fill="#454545"/>
<rect x="667.75" y="326" width="53.7" height="2" fill="#2e2e2e"/>
<rect x="667.75" y="326" width="12.1" height="2" fill="#969696"/>
<rect x="681.75" y="326" width="12.2" height="2" fill="#919191"/>
<rect x="695.75" y="326" width="11.9" height="2" fill="#8c8c8c"/>
<rect x="709.75" y="326" width="11.7" height="2" fill="#8a8a8a"/>
<rect x="543.8" y="338" width="200.9" height="1" fill="#454545"/>
<rect x="667.75" y="338" width="53.7" height="1" fill="#2e2e2e"/>
<rect x="667.75" y="338" width="12.1" height="1" fill="#949494"/>
<rect x="681.75" y="338" width="12.2" height="1" fill="#8f8f8f"/>
<rect x="695.75" y="338" width="11.9" height="1" fill="#8c8c8c"/>
<rect x="709.75" y="338" width="11.7" height="1" fill="#8a8a8a"/>
<rect x="543.8" y="352" width="200.9" height="1" fill="#454545"/>
<rect x="667.75" y="352" width="53.7" height="1" fill="#2e2e2e"/>
<rect x="667.75" y="352" width="12.1" height="1" fill="#999999"/>
<rect x="681.75" y="352" width="12.2" height="1" fill="#878787"/>
<rect x="695.75" y="352" width="11.9" height="1" fill="#808080"/>
<rect x="709.75" y="352" width="11.7" height="1" fill="#8a8a8a"/>
<rect x="543.8" y="354" width="200.9" height="2" fill="#3d3d3d"/>
<rect x="667.75" y="354" width="53.7" height="2" fill="#2e2e2e"/>
<rect x="667.75" y="354" width="12.1" height="2" fill="#999999"/>
<rect x="681.75" y="354" width="12.2" height="2" fill="#878787"/>
<rect x="695.75" y="354" width="11.9" height="2" fill="#808080"/>
<rect x="709.75" y="354" width="11.7" height="2" fill="#8a8a8a"/>
<rect x="543.8" y="366" width="200.9" height="2" fill="#454545"/>
<rect x="667.75" y="366" width="53.7" height="2" fill="#2e2e2e"/>
<rect x="667.75" y="366" width="12.1" height="2" fill="#969696"/>
<rect x="681.75" y="366" width="12.2" height="2" fill="#878787"/>
<rect x="695.75" y="366" width="11.9" height="2" fill="#808080"/>
<rect x="709.75" y="366" width="11.7" height="2" fill="#8a8a8a"/>
<rect x="543.8" y="378" width="200.9" height="2" fill="#454545"/>
<rect x="667.75" y="378" width="53.7" height="2" fill="#2e2e2e"/>
<rect x="667.75" y="378" width="12.1" height="2" fill="#969696"/>
<rect x="681.75" y="378" width="12.2" height="2" fill="#878787"/>
<rect x="695.75" y="378" width="11.9" height="2" fill="#808080"/>
<rect x="709.75" y="378" width="11.7" height="2" fill="#8a8a8a"/>
<rect x="543.8" y="235" width="200.9" height="2" fill="#4a4a4a"/>
<rect x="667.75" y="235" width="53.7" height="2" fill="#383838"/>
<rect x="667.75" y="235" width="12.1" height="2" fill="#8c8c8c"/>
<rect x="681.75" y="235" width="12.2" height="2" fill="#7a7a7a"/>
<rect x="695.75" y="235" width="11.9" height="2" fill="#787878"/>
<rect x="709.75" y="235" width="11.7" height="2" fill="#878787"/>
<rect x="543.8" y="232" width="200.9" height="1" fill="#4a4a4a"/>
<rect x="667.75" y="232" width="53.7" height="1" fill="#383838"/>
<rect x="667.75" y="232" width="12.1" height="1" fill="#8c8c8c"/>
<rect x="681.75" y="232" width="12.2" height="1" fill="#7a7a7a"/>
<rect x="695.75" y="232" width="11.9" height="1" fill="#787878"/>
<rect x="709.75" y="232" width="11.7" height="1" fill="#878787"/>
<rect x="543.8" y="246" width="200.9" height="1" fill="#4a4a4a"/>
<rect x="667.75" y="246" width="53.7" height="1" fill="#383838"/>
<rect x="667.75" y="246" width="12.1" height="1" fill="#8c8c8c"/>
<rect x="681.75" y="246" width="12.2" height="1" fill="#7a7a7a"/>
<rect x="695.75" y="246" width="11.9" height="1" fill="#787878"/>
<rect x="709.75" y="246" width="11.7" height="1" fill="#878787"/>
<rect x="543.8" y="499" width="200.9" height="2" fill="#3d3d3d"/>
<rect x="667.75" y="499" width="53.7" height="2" fill="#333333"/>
<rect x="667.75" y="499" width="12.1" height="2" fill="#919191"/>
<rect x="681.75" y="499" width="12.2" height="2" fill="#969696"/>
<rect x="695.75" y="499" width="11.9" height="2" fill="#8c8c8c"/>
<rect x="709.75" y="499" width="11.7" height="2" fill="#8a8a8a"/>
<rect x="722.8" y="318" width="10" height="3" fill="#757575"/>
<rect x="667.75" y="566" width="53.7" height="1.2" fill="#e6e6e6"/>
</g></g>
<g clip-path="url(#cp2)"><use href="#ov" x="555.8"/></g>
<g clip-path="url(#cp3)"><g filter="url(#jet3)">
<rect x="756.1" y="168" width="200.9" height="564" fill="#212121"/>
<rect x="756.1" y="168" width="200.9" height="36" fill="#212121"/>
<rect x="756.1" y="204" width="200.9" height="17" fill="#212121"/>
<rect x="756.1" y="221" width="200.9" height="35" fill="#303030"/>
<rect x="756.1" y="256" width="200.9" height="31" fill="#242424"/>
<rect x="756.1" y="287" width="200.9" height="14" fill="#262626"/>
<rect x="756.1" y="301" width="200.9" height="14" fill="#303030"/>
<rect x="756.1" y="315" width="200.9" height="21" fill="#1f1f1f"/>
<rect x="756.1" y="336" width="200.9" height="14" fill="#1f1f1f"/>
<rect x="756.1" y="350" width="200.9" height="14" fill="#1f1f1f"/>
<rect x="756.1" y="364" width="200.9" height="28" fill="#212121"/>
<rect x="756.1" y="392" width="200.9" height="16" fill="#212121"/>
<rect x="756.1" y="408" width="200.9" height="22" fill="#1c1c1c"/>
<rect x="756.1" y="430" width="200.9" height="19" fill="#1c1c1c"/>
<rect x="756.1" y="449" width="200.9" height="13" fill="#1c1c1c"/>
<rect x="756.1" y="462" width="200.9" height="20" fill="#1c1c1c"/>
<rect x="756.1" y="482" width="200.9" height="23" fill="#1c1c1c"/>
<rect x="756.1" y="505" width="200.9" height="9" fill="#292929"/>
<rect x="756.1" y="514" width="200.9" height="17" fill="#1f1f1f"/>
<rect x="756.1" y="531" width="200.9" height="35" fill="#1c1c1c"/>
<rect x="756.1" y="566" width="200.9" height="6" fill="#2e2e2e"/>
<rect x="756.1" y="572" width="200.9" height="6" fill="#2b2b2b"/>
<rect x="756.1" y="578" width="200.9" height="5" fill="#212121"/>
<rect x="756.1" y="583" width="200.9" height="5" fill="#212121"/>
<rect x="756.1" y="588" width="200.9" height="2" fill="#212121"/>
<rect x="756.1" y="590" width="200.9" height="3" fill="#212121"/>
<rect x="756.1" y="593" width="200.9" height="2" fill="#212121"/>
<rect x="756.1" y="595" width="200.9" height="3" fill="#212121"/>
<rect x="756.1" y="598" width="200.9" height="8" fill="#212121"/>
<rect x="756.1" y="606" width="200.9" height="6" fill="#212121"/>
<rect x="756.1" y="612" width="200.9" height="10" fill="#212121"/>
<rect x="756.1" y="622" width="200.9" height="10" fill="#212121"/>
<rect x="756.1" y="632" width="200.9" height="8" fill="#262626"/>
<rect x="756.1" y="640" width="200.9" height="10" fill="#262626"/>
<rect x="756.1" y="650" width="200.9" height="15" fill="#262626"/>
<rect x="756.1" y="665" width="200.9" height="15" fill="#212121"/>
<rect x="756.1" y="680" width="200.9" height="10" fill="#212121"/>
<rect x="756.1" y="690" width="200.9" height="18" fill="#242424"/>
<rect x="756.1" y="708" width="200.9" height="24" fill="#242424"/>
<rect x="805.1" y="368" width="35" height="23" fill="#333333"/>
<rect x="768.1" y="393" width="37" height="15" fill="#363636"/>
<rect x="768.1" y="507" width="95" height="6" fill="#3b3b3b"/>
<rect x="768.1" y="632" width="112" height="31" fill="#2b2b2b"/>
<rect x="785.1" y="635" width="55" height="20" fill="#383838"/>
<rect x="768.1" y="566" width="177" height="12" fill="#303030"/>
<rect x="840.1" y="566" width="14" height="12" fill="#404040"/>
<rect x="854.1" y="566" width="12" height="12" fill="#595959"/>
<rect x="866.1" y="566" width="14" height="12" fill="#737373"/>
<rect x="933.75" y="566" width="11.35" height="12" fill="#666666"/>
<rect x="860.1" y="579" width="20" height="11" fill="#454545"/>
<rect x="868.1" y="591" width="12" height="6" fill="#383838"/>
<rect x="839.1" y="300" width="1" height="45" fill="#525252"/>
<rect x="880.05" y="168" width="53.7" height="36" fill="#1f1f1f"/>
<rect x="880.05" y="168" width="12.1" height="36" fill="#9e9e9e"/>
<rect x="894.05" y="168" width="12.2" height="36" fill="#919191"/>
<rect x="908.05" y="168" width="11.9" height="36" fill="#8c8c8c"/>
<rect x="922.05" y="168" width="11.7" height="36" fill="#858585"/>
<rect x="880.05" y="204" width="53.7" height="17" fill="#1f1f1f"/>
<rect x="880.05" y="204" width="12.1" height="17" fill="#999999"/>
<rect x="894.05" y="204" width="12.2" height="17" fill="#8f8f8f"/>
<rect x="908.05" y="204" width="11.9" height="17" fill="#8a8a8a"/>
<rect x="922.05" y="204" width="11.7" height="17" fill="#808080"/>
<rect x="880.05" y="221" width="53.7" height="35" fill="#2e2e2e"/>
<rect x="880.05" y="221" width="12.1" height="35" fill="#949494"/>
<rect x="894.05" y="221" width="12.2" height="35" fill="#808080"/>
<rect x="908.05" y="221" width="11.9" height="35" fill="#808080"/>
<rect x="922.05" y="221" width="11.7" height="35" fill="#808080"/>
<rect x="880.05" y="256" width="53.7" height="31" fill="#212121"/>
<rect x="880.05" y="256" width="12.1" height="31" fill="#9e9e9e"/>
<rect x="894.05" y="256" width="12.2" height="31" fill="#878787"/>
<rect x="908.05" y="256" width="11.9" height="31" fill="#8c8c8c"/>
<rect x="922.05" y="256" width="11.7" height="31" fill="#858585"/>
<rect x="880.05" y="287" width="53.7" height="14" fill="#242424"/>
<rect x="880.05" y="287" width="12.1" height="14" fill="#949494"/>
<rect x="894.05" y="287" width="12.2" height="14" fill="#808080"/>
<rect x="908.05" y="287" width="11.9" height="14" fill="#858585"/>
<rect x="922.05" y="287" width="11.7" height="14" fill="#787878"/>
<rect x="880.05" y="301" width="53.7" height="14" fill="#2e2e2e"/>
<rect x="880.05" y="301" width="12.1" height="14" fill="#999999"/>
<rect x="894.05" y="301" width="12.2" height="14" fill="#8c8c8c"/>
<rect x="908.05" y="301" width="11.9" height="14" fill="#808080"/>
<rect x="922.05" y="301" width="11.7" height="14" fill="#787878"/>
<rect x="880.05" y="315" width="53.7" height="21" fill="#1c1c1c"/>
<rect x="880.05" y="315" width="12.1" height="21" fill="#a1a1a1"/>
<rect x="894.05" y="315" width="12.2" height="21" fill="#949494"/>
<rect x="908.05" y="315" width="11.9" height="21" fill="#8f8f8f"/>
<rect x="922.05" y="315" width="11.7" height="21" fill="#8c8c8c"/>
<rect x="880.05" y="336" width="53.7" height="14" fill="#1c1c1c"/>
<rect x="880.05" y="336" width="12.1" height="14" fill="#9e9e9e"/>
<rect x="894.05" y="336" width="12.2" height="14" fill="#919191"/>
<rect x="908.05" y="336" width="11.9" height="14" fill="#8c8c8c"/>
<rect x="922.05" y="336" width="11.7" height="14" fill="#8a8a8a"/>
<rect x="880.05" y="350" width="53.7" height="14" fill="#1c1c1c"/>
<rect x="880.05" y="350" width="12.1" height="14" fill="#949494"/>
<rect x="894.05" y="350" width="12.2" height="14" fill="#8c8c8c"/>
<rect x="908.05" y="350" width="11.9" height="14" fill="#8c8c8c"/>
<rect x="922.05" y="350" width="11.7" height="14" fill="#8c8c8c"/>
<rect x="880.05" y="364" width="53.7" height="28" fill="#1f1f1f"/>
<rect x="880.05" y="364" width="12.1" height="28" fill="#949494"/>
<rect x="894.05" y="364" width="12.2" height="28" fill="#8c8c8c"/>
<rect x="908.05" y="364" width="11.9" height="28" fill="#8c8c8c"/>
<rect x="922.05" y="364" width="11.7" height="28" fill="#8c8c8c"/>
<rect x="880.05" y="392" width="53.7" height="16" fill="#1f1f1f"/>
<rect x="880.05" y="392" width="12.1" height="16" fill="#858585"/>
<rect x="894.05" y="392" width="12.2" height="16" fill="#8c8c8c"/>
<rect x="908.05" y="392" width="11.9" height="16" fill="#878787"/>
<rect x="922.05" y="392" width="11.7" height="16" fill="#8c8c8c"/>
<rect x="880.05" y="408" width="53.7" height="22" fill="#1a1a1a"/>
<rect x="880.05" y="408" width="12.1" height="22" fill="#8c8c8c"/>
<rect x="894.05" y="408" width="12.2" height="22" fill="#949494"/>
<rect x="908.05" y="408" width="11.9" height="22" fill="#878787"/>
<rect x="922.05" y="408" width="11.7" height="22" fill="#8c8c8c"/>
<rect x="880.05" y="430" width="53.7" height="19" fill="#1a1a1a"/>
<rect x="880.05" y="430" width="12.1" height="19" fill="#999999"/>
<rect x="894.05" y="430" width="12.2" height="19" fill="#a1a1a1"/>
<rect x="908.05" y="430" width="11.9" height="19" fill="#8c8c8c"/>
<rect x="922.05" y="430" width="11.7" height="19" fill="#8a8a8a"/>
<rect x="880.05" y="449" width="53.7" height="13" fill="#1a1a1a"/>
<rect x="880.05" y="449" width="12.1" height="13" fill="#999999"/>
<rect x="894.05" y="449" width="12.2" height="13" fill="#9e9e9e"/>
<rect x="908.05" y="449" width="11.9" height="13" fill="#999999"/>
<rect x="922.05" y="449" width="11.7" height="13" fill="#8f8f8f"/>
<rect x="880.05" y="462" width="53.7" height="20" fill="#1a1a1a"/>
<rect x="880.05" y="462" width="12.1" height="20" fill="#a6a6a6"/>
<rect x="894.05" y="462" width="12.2" height="20" fill="#a8a8a8"/>
<rect x="908.05" y="462" width="11.9" height="20" fill="#9e9e9e"/>
<rect x="922.05" y="462" width="11.7" height="20" fill="#919191"/>
<rect x="880.05" y="482" width="53.7" height="23" fill="#1a1a1a"/>
<rect x="880.05" y="482" width="12.1" height="23" fill="#999999"/>
<rect x="894.05" y="482" width="12.2" height="23" fill="#999999"/>
<rect x="908.05" y="482" width="11.9" height="23" fill="#919191"/>
<rect x="922.05" y="482" width="11.7" height="23" fill="#858585"/>
<rect x="880.05" y="505" width="53.7" height="9" fill="#262626"/>
<rect x="880.05" y="505" width="12.1" height="9" fill="#949494"/>
<rect x="894.05" y="505" width="12.2" height="9" fill="#858585"/>
<rect x="908.05" y="505" width="11.9" height="9" fill="#b2b2b2"/>
<rect x="922.05" y="505" width="11.7" height="9" fill="#8f8f8f"/>
<rect x="880.05" y="514" width="53.7" height="17" fill="#1c1c1c"/>
<rect x="880.05" y="514" width="12.1" height="17" fill="#949494"/>
<rect x="894.05" y="514" width="12.2" height="17" fill="#949494"/>
<rect x="908.05" y="514" width="11.9" height="17" fill="#878787"/>
<rect x="922.05" y="514" width="11.7" height="17" fill="#858585"/>
<rect x="880.05" y="531" width="53.7" height="35" fill="#1a1a1a"/>
<rect x="880.05" y="531" width="12.1" height="35" fill="#949494"/>
<rect x="894.05" y="531" width="12.2" height="35" fill="#949494"/>
<rect x="908.05" y="531" width="11.9" height="35" fill="#878787"/>
<rect x="922.05" y="531" width="11.7" height="35" fill="#858585"/>
<rect x="880.05" y="566" width="53.7" height="6" fill="#b2b2b2"/>
<rect x="880.05" y="566" width="12.1" height="6" fill="#ebebeb"/>
<rect x="894.05" y="566" width="12.2" height="6" fill="#ededed"/>
<rect x="908.05" y="566" width="11.9" height="6" fill="#ebebeb"/>
<rect x="922.05" y="566" width="11.7" height="6" fill="#e6e6e6"/>
<rect x="880.05" y="572" width="53.7" height="6" fill="#b2b2b2"/>
<rect x="880.05" y="572" width="12.1" height="6" fill="#e0e0e0"/>
<rect x="894.05" y="572" width="12.2" height="6" fill="#e0e0e0"/>
<rect x="908.05" y="572" width="11.9" height="6" fill="#dedede"/>
<rect x="922.05" y="572" width="11.7" height="6" fill="#dbdbdb"/>
<rect x="880.05" y="578" width="53.7" height="5" fill="#363636"/>
<rect x="880.05" y="578" width="12.1" height="5" fill="#bababa"/>
<rect x="894.05" y="578" width="12.2" height="5" fill="#bdbdbd"/>
<rect x="908.05" y="578" width="11.9" height="5" fill="#c2c2c2"/>
<rect x="922.05" y="578" width="11.7" height="5" fill="#b8b8b8"/>
<rect x="880.05" y="583" width="53.7" height="5" fill="#363636"/>
<rect x="880.05" y="583" width="12.1" height="5" fill="#bababa"/>
<rect x="894.05" y="583" width="12.2" height="5" fill="#bababa"/>
<rect x="908.05" y="583" width="11.9" height="5" fill="#b2b2b2"/>
<rect x="922.05" y="583" width="11.7" height="5" fill="#b2b2b2"/>
<rect x="880.05" y="588" width="53.7" height="2" fill="#363636"/>
<rect x="880.05" y="588" width="12.1" height="2" fill="#b2b2b2"/>
<rect x="894.05" y="588" width="12.2" height="2" fill="#b8b8b8"/>
<rect x="908.05" y="588" width="11.9" height="2" fill="#b8b8b8"/>
<rect x="922.05" y="588" width="11.7" height="2" fill="#b2b2b2"/>
<rect x="880.05" y="590" width="53.7" height="3" fill="#363636"/>
<rect x="880.05" y="590" width="12.1" height="3" fill="#d6d6d6"/>
<rect x="894.05" y="590" width="12.2" height="3" fill="#d9d9d9"/>
<rect x="908.05" y="590" width="11.9" height="3" fill="#d6d6d6"/>
<rect x="922.05" y="590" width="11.7" height="3" fill="#cccccc"/>
<rect x="880.05" y="593" width="53.7" height="2" fill="#363636"/>
<rect x="880.05" y="593" width="12.1" height="2" fill="#999999"/>
<rect x="894.05" y="593" width="12.2" height="2" fill="#9e9e9e"/>
<rect x="908.05" y="593" width="11.9" height="2" fill="#9e9e9e"/>
<rect x="922.05" y="593" width="11.7" height="2" fill="#9e9e9e"/>
<rect x="880.05" y="595" width="53.7" height="3" fill="#363636"/>
<rect x="880.05" y="595" width="12.1" height="3" fill="#bfbfbf"/>
<rect x="894.05" y="595" width="12.2" height="3" fill="#bdbdbd"/>
<rect x="908.05" y="595" width="11.9" height="3" fill="#c4c4c4"/>
<rect x="922.05" y="595" width="11.7" height="3" fill="#bfbfbf"/>
<rect x="880.05" y="598" width="53.7" height="8" fill="#363636"/>
<rect x="880.05" y="598" width="12.1" height="8" fill="#9e9e9e"/>
<rect x="894.05" y="598" width="12.2" height="8" fill="#bdbdbd"/>
<rect x="908.05" y="598" width="11.9" height="8" fill="#c2c2c2"/>
<rect x="922.05" y="598" width="11.7" height="8" fill="#a8a8a8"/>
<rect x="880.05" y="606" width="53.7" height="6" fill="#363636"/>
<rect x="880.05" y="606" width="12.1" height="6" fill="#adadad"/>
<rect x="894.05" y="606" width="12.2" height="6" fill="#a8a8a8"/>
<rect x="908.05" y="606" width="11.9" height="6" fill="#9e9e9e"/>
<rect x="922.05" y="606" width="11.7" height="6" fill="#999999"/>
<rect x="880.05" y="612" width="53.7" height="10" fill="#1f1f1f"/>
<rect x="880.05" y="612" width="12.1" height="10" fill="#999999"/>
<rect x="894.05" y="612" width="12.2" height="10" fill="#a1a1a1"/>
<rect x="908.05" y="612" width="11.9" height="10" fill="#999999"/>
<rect x="922.05" y="612" width="11.7" height="10" fill="#949494"/>
<rect x="880.05" y="622" width="53.7" height="10" fill="#1f1f1f"/>
<rect x="880.05" y="622" width="12.1" height="10" fill="#999999"/>
<rect x="894.05" y="622" width="12.2" height="10" fill="#9e9e9e"/>
<rect x="908.05" y="622" width="11.9" height="10" fill="#999999"/>
<rect x="922.05" y="622" width="11.7" height="10" fill="#949494"/>
<rect x="880.05" y="632" width="53.7" height="8" fill="#242424"/>
<rect x="880.05" y="632" width="12.1" height="8" fill="#adadad"/>
<rect x="894.05" y="632" width="12.2" height="8" fill="#b8b8b8"/>
<rect x="908.05" y="632" width="11.9" height="8" fill="#a1a1a1"/>
<rect x="922.05" y="632" width="11.7" height="8" fill="#858585"/>
<rect x="880.05" y="640" width="53.7" height="10" fill="#242424"/>
<rect x="880.05" y="640" width="12.1" height="10" fill="#8f8f8f"/>
<rect x="894.05" y="640" width="12.2" height="10" fill="#a3a3a3"/>
<rect x="908.05" y="640" width="11.9" height="10" fill="#999999"/>
<rect x="922.05" y="640" width="11.7" height="10" fill="#808080"/>
<rect x="880.05" y="650" width="53.7" height="15" fill="#242424"/>
<rect x="880.05" y="650" width="12.1" height="15" fill="#7a7a7a"/>
<rect x="894.05" y="650" width="12.2" height="15" fill="#8f8f8f"/>
<rect x="908.05" y="650" width="11.9" height="15" fill="#858585"/>
<rect x="922.05" y="650" width="11.7" height="15" fill="#808080"/>
<rect x="880.05" y="665" width="53.7" height="15" fill="#1f1f1f"/>
<rect x="880.05" y="665" width="12.1" height="15" fill="#9e9e9e"/>
<rect x="894.05" y="665" width="12.2" height="15" fill="#919191"/>
<rect x="908.05" y="665" width="11.9" height="15" fill="#949494"/>
<rect x="922.05" y="665" width="11.7" height="15" fill="#808080"/>
<rect x="880.05" y="680" width="53.7" height="10" fill="#1f1f1f"/>
<rect x="880.05" y="680" width="12.1" height="10" fill="#949494"/>
<rect x="894.05" y="680" width="12.2" height="10" fill="#8c8c8c"/>
<rect x="908.05" y="680" width="11.9" height="10" fill="#8f8f8f"/>
<rect x="922.05" y="680" width="11.7" height="10" fill="#808080"/>
<rect x="880.05" y="690" width="53.7" height="18" fill="#212121"/>
<rect x="880.05" y="690" width="12.1" height="18" fill="#a3a3a3"/>
<rect x="894.05" y="690" width="12.2" height="18" fill="#999999"/>
<rect x="908.05" y="690" width="11.9" height="18" fill="#9e9e9e"/>
<rect x="922.05" y="690" width="11.7" height="18" fill="#858585"/>
<rect x="880.05" y="708" width="53.7" height="24" fill="#212121"/>
<rect x="880.05" y="708" width="12.1" height="24" fill="#a8a8a8"/>
<rect x="894.05" y="708" width="12.2" height="24" fill="#999999"/>
<rect x="908.05" y="708" width="11.9" height="24" fill="#9e9e9e"/>
<rect x="922.05" y="708" width="11.7" height="24" fill="#858585"/>
<rect x="756.1" y="211" width="200.9" height="2" fill="#212121"/>
<rect x="880.05" y="211" width="53.7" height="2" fill="#212121"/>
<rect x="880.05" y="211" width="12.1" height="2" fill="#808080"/>
<rect x="894.05" y="211" width="12.2" height="2" fill="#757575"/>
<rect x="908.05" y="211" width="11.9" height="2" fill="#707070"/>
<rect x="922.05" y="211" width="11.7" height="2" fill="#666666"/>
<rect x="756.1" y="312" width="200.9" height="1" fill="#474747"/>
<rect x="880.05" y="312" width="53.7" height="1" fill="#303030"/>
<rect x="880.05" y="312" width="12.1" height="1" fill="#808080"/>
<rect x="894.05" y="312" width="12.2" height="1" fill="#737373"/>
<rect x="908.05" y="312" width="11.9" height="1" fill="#666666"/>
<rect x="922.05" y="312" width="11.7" height="1" fill="#5e5e5e"/>
<rect x="756.1" y="326" width="200.9" height="2" fill="#363636"/>
<rect x="880.05" y="326" width="53.7" height="2" fill="#1f1f1f"/>
<rect x="880.05" y="326" width="12.1" height="2" fill="#878787"/>
<rect x="894.05" y="326" width="12.2" height="2" fill="#7a7a7a"/>
<rect x="908.05" y="326" width="11.9" height="2" fill="#757575"/>
<rect x="922.05" y="326" width="11.7" height="2" fill="#737373"/>
<rect x="756.1" y="338" width="200.9" height="1" fill="#363636"/>
<rect x="880.05" y="338" width="53.7" height="1" fill="#1f1f1f"/>
<rect x="880.05" y="338" width="12.1" height="1" fill="#858585"/>
<rect x="894.05" y="338" width="12.2" height="1" fill="#787878"/>
<rect x="908.05" y="338" width="11.9" height="1" fill="#737373"/>
<rect x="922.05" y="338" width="11.7" height="1" fill="#707070"/>
<rect x="756.1" y="352" width="200.9" height="1" fill="#363636"/>
<rect x="880.05" y="352" width="53.7" height="1" fill="#1f1f1f"/>
<rect x="880.05" y="352" width="12.1" height="1" fill="#7a7a7a"/>
<rect x="894.05" y="352" width="12.2" height="1" fill="#737373"/>
<rect x="908.05" y="352" width="11.9" height="1" fill="#737373"/>
<rect x="922.05" y="352" width="11.7" height="1" fill="#737373"/>
<rect x="756.1" y="354" width="200.9" height="2" fill="#2e2e2e"/>
<rect x="880.05" y="354" width="53.7" height="2" fill="#1f1f1f"/>
<rect x="880.05" y="354" width="12.1" height="2" fill="#7a7a7a"/>
<rect x="894.05" y="354" width="12.2" height="2" fill="#737373"/>
<rect x="908.05" y="354" width="11.9" height="2" fill="#737373"/>
<rect x="922.05" y="354" width="11.7" height="2" fill="#737373"/>
<rect x="756.1" y="366" width="200.9" height="2" fill="#383838"/>
<rect x="880.05" y="366" width="53.7" height="2" fill="#212121"/>
<rect x="880.05" y="366" width="12.1" height="2" fill="#7a7a7a"/>
<rect x="894.05" y="366" width="12.2" height="2" fill="#737373"/>
<rect x="908.05" y="366" width="11.9" height="2" fill="#737373"/>
<rect x="922.05" y="366" width="11.7" height="2" fill="#737373"/>
<rect x="756.1" y="378" width="200.9" height="2" fill="#383838"/>
<rect x="880.05" y="378" width="53.7" height="2" fill="#212121"/>
<rect x="880.05" y="378" width="12.1" height="2" fill="#7a7a7a"/>
<rect x="894.05" y="378" width="12.2" height="2" fill="#737373"/>
<rect x="908.05" y="378" width="11.9" height="2" fill="#737373"/>
<rect x="922.05" y="378" width="11.7" height="2" fill="#737373"/>
<rect x="756.1" y="235" width="200.9" height="2" fill="#424242"/>
<rect x="880.05" y="235" width="53.7" height="2" fill="#303030"/>
<rect x="880.05" y="235" width="12.1" height="2" fill="#7a7a7a"/>
<rect x="894.05" y="235" width="12.2" height="2" fill="#666666"/>
<rect x="908.05" y="235" width="11.9" height="2" fill="#666666"/>
<rect x="922.05" y="235" width="11.7" height="2" fill="#666666"/>
<rect x="756.1" y="232" width="200.9" height="1" fill="#424242"/>
<rect x="880.05" y="232" width="53.7" height="1" fill="#303030"/>
<rect x="880.05" y="232" width="12.1" height="1" fill="#7a7a7a"/>
<rect x="894.05" y="232" width="12.2" height="1" fill="#666666"/>
<rect x="908.05" y="232" width="11.9" height="1" fill="#666666"/>
<rect x="922.05" y="232" width="11.7" height="1" fill="#666666"/>
<rect x="756.1" y="246" width="200.9" height="1" fill="#424242"/>
<rect x="880.05" y="246" width="53.7" height="1" fill="#303030"/>
<rect x="880.05" y="246" width="12.1" height="1" fill="#7a7a7a"/>
<rect x="894.05" y="246" width="12.2" height="1" fill="#666666"/>
<rect x="908.05" y="246" width="11.9" height="1" fill="#666666"/>
<rect x="922.05" y="246" width="11.7" height="1" fill="#666666"/>
<rect x="756.1" y="499" width="200.9" height="2" fill="#262626"/>
<rect x="880.05" y="499" width="53.7" height="2" fill="#1c1c1c"/>
<rect x="880.05" y="499" width="12.1" height="2" fill="#808080"/>
<rect x="894.05" y="499" width="12.2" height="2" fill="#808080"/>
<rect x="908.05" y="499" width="11.9" height="2" fill="#787878"/>
<rect x="922.05" y="499" width="11.7" height="2" fill="#6b6b6b"/>
<rect x="935.1" y="318" width="10" height="3" fill="#757575"/>
<rect x="880.05" y="566" width="53.7" height="2" fill="#c7c7c7"/>
<rect x="880.05" y="577" width="53.7" height="1" fill="#d6d6d6"/>
</g></g>
<g clip-path="url(#cp3)"><use href="#ov" x="768.1"/></g>
<rect x="131.5" y="80.5" width="177" height="640.0" fill="none" stroke="#000" stroke-width="1.25"/>
<path d="M131.5 720.5v-5.6M131.5 80.5v5.6M173.5 720.5v-5.6M173.5 80.5v5.6M214.5 720.5v-5.6M214.5 80.5v5.6M256.5 720.5v-5.6M256.5 80.5v5.6M297.5 720.5v-5.6M297.5 80.5v5.6M131.5 720.5h5.6M308.5 720.5h-5.6M131.5 587.5h5.6M308.5 587.5h-5.6M131.5 453.5h5.6M308.5 453.5h-5.6M131.5 320.5h5.6M308.5 320.5h-5.6M131.5 187.5h5.6M308.5 187.5h-5.6" stroke="#000" stroke-width="0.75" fill="none"/>
<text x="131.5" y="735.9" font-size="12" text-anchor="middle">320</text>
<text x="173.5" y="735.9" font-size="12" text-anchor="middle">335</text>
<text x="214.5" y="735.9" font-size="12" text-anchor="middle">350</text>
<text x="256.5" y="735.9" font-size="12" text-anchor="middle">365</text>
<text x="297.5" y="735.9" font-size="12" text-anchor="middle">380</text>
<text x="126.3" y="723.5" font-size="12" text-anchor="end">0</text>
<text x="126.3" y="590.17" font-size="12" text-anchor="end">5</text>
<text x="126.3" y="456.83" font-size="12" text-anchor="end">10</text>
<text x="126.3" y="323.5" font-size="12" text-anchor="end">15</text>
<text x="126.3" y="190.17" font-size="12" text-anchor="end">20</text>
<text x="220.3" y="72.9" font-size="15.7" text-anchor="middle" textLength="175" lengthAdjust="spacingAndGlyphs">XX, V1*V9=EA10*EA04</text>
<rect x="344.5" y="80.5" width="176" height="640.0" fill="none" stroke="#000" stroke-width="1.25"/>
<path d="M344.5 720.5v-5.6M344.5 80.5v5.6M385.5 720.5v-5.6M385.5 80.5v5.6M426.5 720.5v-5.6M426.5 80.5v5.6M468.5 720.5v-5.6M468.5 80.5v5.6M509.5 720.5v-5.6M509.5 80.5v5.6M344.5 720.5h5.6M520.5 720.5h-5.6M344.5 587.5h5.6M520.5 587.5h-5.6M344.5 453.5h5.6M520.5 453.5h-5.6M344.5 320.5h5.6M520.5 320.5h-5.6M344.5 187.5h5.6M520.5 187.5h-5.6" stroke="#000" stroke-width="0.75" fill="none"/>
<text x="344.5" y="735.9" font-size="12" text-anchor="middle">320</text>
<text x="385.5" y="735.9" font-size="12" text-anchor="middle">335</text>
<text x="426.5" y="735.9" font-size="12" text-anchor="middle">350</text>
<text x="468.5" y="735.9" font-size="12" text-anchor="middle">365</text>
<text x="509.5" y="735.9" font-size="12" text-anchor="middle">380</text>
<text x="339.3" y="723.5" font-size="12" text-anchor="end">0</text>
<text x="339.3" y="590.17" font-size="12" text-anchor="end">5</text>
<text x="339.3" y="456.83" font-size="12" text-anchor="end">10</text>
<text x="339.3" y="323.5" font-size="12" text-anchor="end">15</text>
<text x="339.3" y="190.17" font-size="12" text-anchor="end">20</text>
<text x="432.58" y="72.9" font-size="15.7" text-anchor="middle" textLength="175" lengthAdjust="spacingAndGlyphs">YY, V1*V9=EA10*EA04</text>
<rect x="556.5" y="80.5" width="177" height="640.0" fill="none" stroke="#000" stroke-width="1.25"/>
<path d="M556.5 720.5v-5.6M556.5 80.5v5.6M597.5 720.5v-5.6M597.5 80.5v5.6M639.5 720.5v-5.6M639.5 80.5v5.6M680.5 720.5v-5.6M680.5 80.5v5.6M722.5 720.5v-5.6M722.5 80.5v5.6M556.5 720.5h5.6M733.5 720.5h-5.6M556.5 587.5h5.6M733.5 587.5h-5.6M556.5 453.5h5.6M733.5 453.5h-5.6M556.5 320.5h5.6M733.5 320.5h-5.6M556.5 187.5h5.6M733.5 187.5h-5.6" stroke="#000" stroke-width="0.75" fill="none"/>
<text x="556.5" y="735.9" font-size="12" text-anchor="middle">320</text>
<text x="597.5" y="735.9" font-size="12" text-anchor="middle">335</text>
<text x="639.5" y="735.9" font-size="12" text-anchor="middle">350</text>
<text x="680.5" y="735.9" font-size="12" text-anchor="middle">365</text>
<text x="722.5" y="735.9" font-size="12" text-anchor="middle">380</text>
<text x="551.3" y="723.5" font-size="12" text-anchor="end">0</text>
<text x="551.3" y="590.17" font-size="12" text-anchor="end">5</text>
<text x="551.3" y="456.83" font-size="12" text-anchor="end">10</text>
<text x="551.3" y="323.5" font-size="12" text-anchor="end">15</text>
<text x="551.3" y="190.17" font-size="12" text-anchor="end">20</text>
<text x="644.85" y="72.9" font-size="15.7" text-anchor="middle" textLength="175" lengthAdjust="spacingAndGlyphs">XY, V1*V9=EA10*EA04</text>
<rect x="768.5" y="80.5" width="177" height="640.0" fill="none" stroke="#000" stroke-width="1.25"/>
<path d="M768.5 720.5v-5.6M768.5 80.5v5.6M810.5 720.5v-5.6M810.5 80.5v5.6M851.5 720.5v-5.6M851.5 80.5v5.6M892.5 720.5v-5.6M892.5 80.5v5.6M934.5 720.5v-5.6M934.5 80.5v5.6M768.5 720.5h5.6M945.5 720.5h-5.6M768.5 587.5h5.6M945.5 587.5h-5.6M768.5 453.5h5.6M945.5 453.5h-5.6M768.5 320.5h5.6M945.5 320.5h-5.6M768.5 187.5h5.6M945.5 187.5h-5.6" stroke="#000" stroke-width="0.75" fill="none"/>
<text x="768.5" y="735.9" font-size="12" text-anchor="middle">320</text>
<text x="810.5" y="735.9" font-size="12" text-anchor="middle">335</text>
<text x="851.5" y="735.9" font-size="12" text-anchor="middle">350</text>
<text x="892.5" y="735.9" font-size="12" text-anchor="middle">365</text>
<text x="934.5" y="735.9" font-size="12" text-anchor="middle">380</text>
<text x="763.3" y="723.5" font-size="12" text-anchor="end">0</text>
<text x="763.3" y="590.17" font-size="12" text-anchor="end">5</text>
<text x="763.3" y="456.83" font-size="12" text-anchor="end">10</text>
<text x="763.3" y="323.5" font-size="12" text-anchor="end">15</text>
<text x="763.3" y="190.17" font-size="12" text-anchor="end">20</text>
<text x="857.15" y="72.9" font-size="15.7" text-anchor="middle" textLength="175" lengthAdjust="spacingAndGlyphs">YX, V1*V9=EA10*EA04</text>
<text x="589.2" y="26" font-size="12.4" text-anchor="middle" textLength="127.5" lengthAdjust="spacingAndGlyphs">2019-05-26 0.0-24.0</text>
<text x="483.5" y="755" font-size="12.4" text-anchor="middle" textLength="102.6" lengthAdjust="spacingAndGlyphs">frequency (MHz)</text>
<text transform="translate(101,400) rotate(-90)" font-size="12.2" text-anchor="middle" textLength="65" lengthAdjust="spacingAndGlyphs">UT (hours)</text>
<rect x="1019.5" y="160.5" width="15" height="480" fill="url(#cbg)" stroke="#000" stroke-width="1.25"/>
<path d="M1019.4 160.5h5.6M1034.7 160.5h-5.6M1019.4 256.5h5.6M1034.7 256.5h-5.6M1019.4 352.5h5.6M1034.7 352.5h-5.6M1019.4 448.5h5.6M1034.7 448.5h-5.6M1019.4 544.5h5.6M1034.7 544.5h-5.6M1019.4 640.5h5.6M1034.7 640.5h-5.6M1022.5 160.5v5.6M1022.5 640.5v-5.6M1025.5 160.5v5.6M1025.5 640.5v-5.6M1028.5 160.5v5.6M1028.5 640.5v-5.6M1031.5 160.5v5.6M1031.5 640.5v-5.6" stroke="#000" stroke-width="0.9" fill="none"/>
<text x="1013.2" y="162.9" font-size="10" text-anchor="end">1</text>
<text x="1013.2" y="258.9" font-size="10" text-anchor="end">0</text>
<text x="1013.2" y="354.9" font-size="10" text-anchor="end">−1</text>
<text x="1013.2" y="450.9" font-size="10" text-anchor="end">−2</text>
<text x="1013.2" y="546.9" font-size="10" text-anchor="end">−3</text>
<text x="1013.2" y="642.9" font-size="10" text-anchor="end">−4</text>
<text transform="translate(984.9,400.5) rotate(-90)" font-size="12.2" text-anchor="middle" textLength="94" lengthAdjust="spacingAndGlyphs">log<tspan font-size="6.6" dy="2.4">10</tspan><tspan dy="-2.4"> amplitude</tspan></text>
<text x="1016.6 1020.6 1023.6 1026.6 1029.6 1032.8" y="648.8" font-size="6" style="fill:#444">······</text>
</svg></body></html>
